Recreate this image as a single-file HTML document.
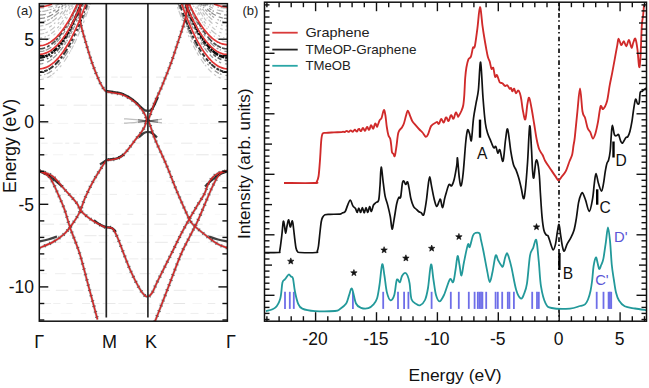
<!DOCTYPE html><html><head><meta charset="utf-8"><style>html,body{margin:0;padding:0;background:#fff;width:649px;height:388px;overflow:hidden}</style></head><body><svg width="649" height="388" viewBox="0 0 649 388" style="display:block">
<rect x="0" y="0" width="649" height="388" fill="#fff"/>
<defs><clipPath id="cl"><rect x="39.3" y="3.65" width="188.10000000000002" height="317.55"/></clipPath></defs>
<g clip-path="url(#cl)">
<line x1="41.3" y1="143.2" x2="47.7" y2="143.2" stroke="#000" stroke-opacity="0.07" stroke-width="1"/>
<line x1="52.6" y1="143.2" x2="62.7" y2="143.2" stroke="#000" stroke-opacity="0.07" stroke-width="1"/>
<line x1="65.2" y1="143.2" x2="69.3" y2="143.2" stroke="#000" stroke-opacity="0.09" stroke-width="1"/>
<line x1="73.4" y1="143.2" x2="79.8" y2="143.2" stroke="#000" stroke-opacity="0.10" stroke-width="1"/>
<line x1="85.5" y1="143.2" x2="97.9" y2="143.2" stroke="#000" stroke-opacity="0.06" stroke-width="1"/>
<line x1="105.0" y1="143.2" x2="110.5" y2="143.2" stroke="#000" stroke-opacity="0.07" stroke-width="1"/>
<line x1="119.4" y1="143.2" x2="128.7" y2="143.2" stroke="#000" stroke-opacity="0.08" stroke-width="1"/>
<line x1="136.0" y1="143.2" x2="140.7" y2="143.2" stroke="#000" stroke-opacity="0.08" stroke-width="1"/>
<line x1="147.4" y1="143.2" x2="154.4" y2="143.2" stroke="#000" stroke-opacity="0.03" stroke-width="1"/>
<line x1="163.4" y1="143.2" x2="172.1" y2="143.2" stroke="#000" stroke-opacity="0.08" stroke-width="1"/>
<line x1="181.1" y1="143.2" x2="192.3" y2="143.2" stroke="#000" stroke-opacity="0.09" stroke-width="1"/>
<line x1="197.4" y1="143.2" x2="209.4" y2="143.2" stroke="#000" stroke-opacity="0.06" stroke-width="1"/>
<line x1="218.9" y1="143.2" x2="225.4" y2="143.2" stroke="#000" stroke-opacity="0.04" stroke-width="1"/>
<line x1="41.3" y1="154.8" x2="47.5" y2="154.8" stroke="#000" stroke-opacity="0.10" stroke-width="1"/>
<line x1="53.0" y1="154.8" x2="63.2" y2="154.8" stroke="#000" stroke-opacity="0.05" stroke-width="1"/>
<line x1="69.3" y1="154.8" x2="77.1" y2="154.8" stroke="#000" stroke-opacity="0.05" stroke-width="1"/>
<line x1="83.8" y1="154.8" x2="93.7" y2="154.8" stroke="#000" stroke-opacity="0.09" stroke-width="1"/>
<line x1="101.1" y1="154.8" x2="114.4" y2="154.8" stroke="#000" stroke-opacity="0.09" stroke-width="1"/>
<line x1="124.3" y1="154.8" x2="135.1" y2="154.8" stroke="#000" stroke-opacity="0.04" stroke-width="1"/>
<line x1="143.9" y1="154.8" x2="157.6" y2="154.8" stroke="#000" stroke-opacity="0.09" stroke-width="1"/>
<line x1="164.1" y1="154.8" x2="175.3" y2="154.8" stroke="#000" stroke-opacity="0.04" stroke-width="1"/>
<line x1="183.9" y1="154.8" x2="193.7" y2="154.8" stroke="#000" stroke-opacity="0.05" stroke-width="1"/>
<line x1="196.2" y1="154.8" x2="208.7" y2="154.8" stroke="#000" stroke-opacity="0.10" stroke-width="1"/>
<line x1="211.4" y1="154.8" x2="223.4" y2="154.8" stroke="#000" stroke-opacity="0.06" stroke-width="1"/>
<line x1="41.3" y1="181.2" x2="48.2" y2="181.2" stroke="#000" stroke-opacity="0.08" stroke-width="1"/>
<line x1="57.2" y1="181.2" x2="61.7" y2="181.2" stroke="#000" stroke-opacity="0.07" stroke-width="1"/>
<line x1="64.0" y1="181.2" x2="75.2" y2="181.2" stroke="#000" stroke-opacity="0.05" stroke-width="1"/>
<line x1="84.3" y1="181.2" x2="98.1" y2="181.2" stroke="#000" stroke-opacity="0.07" stroke-width="1"/>
<line x1="108.0" y1="181.2" x2="115.1" y2="181.2" stroke="#000" stroke-opacity="0.04" stroke-width="1"/>
<line x1="121.9" y1="181.2" x2="126.3" y2="181.2" stroke="#000" stroke-opacity="0.04" stroke-width="1"/>
<line x1="131.5" y1="181.2" x2="141.6" y2="181.2" stroke="#000" stroke-opacity="0.04" stroke-width="1"/>
<line x1="144.0" y1="181.2" x2="156.6" y2="181.2" stroke="#000" stroke-opacity="0.05" stroke-width="1"/>
<line x1="166.3" y1="181.2" x2="179.3" y2="181.2" stroke="#000" stroke-opacity="0.06" stroke-width="1"/>
<line x1="185.0" y1="181.2" x2="194.2" y2="181.2" stroke="#000" stroke-opacity="0.08" stroke-width="1"/>
<line x1="200.9" y1="181.2" x2="210.5" y2="181.2" stroke="#000" stroke-opacity="0.07" stroke-width="1"/>
<line x1="220.0" y1="181.2" x2="225.4" y2="181.2" stroke="#000" stroke-opacity="0.06" stroke-width="1"/>
<line x1="41.3" y1="194.4" x2="47.7" y2="194.4" stroke="#000" stroke-opacity="0.05" stroke-width="1"/>
<line x1="57.5" y1="194.4" x2="66.7" y2="194.4" stroke="#000" stroke-opacity="0.07" stroke-width="1"/>
<line x1="68.8" y1="194.4" x2="77.0" y2="194.4" stroke="#000" stroke-opacity="0.07" stroke-width="1"/>
<line x1="79.1" y1="194.4" x2="89.3" y2="194.4" stroke="#000" stroke-opacity="0.07" stroke-width="1"/>
<line x1="91.8" y1="194.4" x2="102.0" y2="194.4" stroke="#000" stroke-opacity="0.06" stroke-width="1"/>
<line x1="109.5" y1="194.4" x2="117.0" y2="194.4" stroke="#000" stroke-opacity="0.08" stroke-width="1"/>
<line x1="124.9" y1="194.4" x2="129.1" y2="194.4" stroke="#000" stroke-opacity="0.03" stroke-width="1"/>
<line x1="136.5" y1="194.4" x2="150.2" y2="194.4" stroke="#000" stroke-opacity="0.05" stroke-width="1"/>
<line x1="155.8" y1="194.4" x2="165.7" y2="194.4" stroke="#000" stroke-opacity="0.05" stroke-width="1"/>
<line x1="170.6" y1="194.4" x2="177.8" y2="194.4" stroke="#000" stroke-opacity="0.06" stroke-width="1"/>
<line x1="184.5" y1="194.4" x2="191.5" y2="194.4" stroke="#000" stroke-opacity="0.06" stroke-width="1"/>
<line x1="199.7" y1="194.4" x2="204.0" y2="194.4" stroke="#000" stroke-opacity="0.07" stroke-width="1"/>
<line x1="211.9" y1="194.4" x2="219.0" y2="194.4" stroke="#000" stroke-opacity="0.05" stroke-width="1"/>
<line x1="41.3" y1="214.3" x2="47.7" y2="214.3" stroke="#000" stroke-opacity="0.04" stroke-width="1"/>
<line x1="53.2" y1="214.3" x2="64.1" y2="214.3" stroke="#000" stroke-opacity="0.04" stroke-width="1"/>
<line x1="68.7" y1="214.3" x2="76.1" y2="214.3" stroke="#000" stroke-opacity="0.09" stroke-width="1"/>
<line x1="81.6" y1="214.3" x2="94.1" y2="214.3" stroke="#000" stroke-opacity="0.04" stroke-width="1"/>
<line x1="98.8" y1="214.3" x2="109.3" y2="214.3" stroke="#000" stroke-opacity="0.09" stroke-width="1"/>
<line x1="114.9" y1="214.3" x2="121.2" y2="214.3" stroke="#000" stroke-opacity="0.04" stroke-width="1"/>
<line x1="127.4" y1="214.3" x2="133.3" y2="214.3" stroke="#000" stroke-opacity="0.09" stroke-width="1"/>
<line x1="142.0" y1="214.3" x2="147.9" y2="214.3" stroke="#000" stroke-opacity="0.05" stroke-width="1"/>
<line x1="156.3" y1="214.3" x2="166.7" y2="214.3" stroke="#000" stroke-opacity="0.09" stroke-width="1"/>
<line x1="171.5" y1="214.3" x2="176.8" y2="214.3" stroke="#000" stroke-opacity="0.05" stroke-width="1"/>
<line x1="185.2" y1="214.3" x2="191.9" y2="214.3" stroke="#000" stroke-opacity="0.05" stroke-width="1"/>
<line x1="197.2" y1="214.3" x2="205.4" y2="214.3" stroke="#000" stroke-opacity="0.06" stroke-width="1"/>
<line x1="214.8" y1="214.3" x2="220.3" y2="214.3" stroke="#000" stroke-opacity="0.03" stroke-width="1"/>
<line x1="41.3" y1="224.2" x2="54.1" y2="224.2" stroke="#000" stroke-opacity="0.10" stroke-width="1"/>
<line x1="59.6" y1="224.2" x2="73.1" y2="224.2" stroke="#000" stroke-opacity="0.09" stroke-width="1"/>
<line x1="76.9" y1="224.2" x2="88.3" y2="224.2" stroke="#000" stroke-opacity="0.09" stroke-width="1"/>
<line x1="95.6" y1="224.2" x2="104.8" y2="224.2" stroke="#000" stroke-opacity="0.05" stroke-width="1"/>
<line x1="109.5" y1="224.2" x2="115.8" y2="224.2" stroke="#000" stroke-opacity="0.03" stroke-width="1"/>
<line x1="122.5" y1="224.2" x2="129.4" y2="224.2" stroke="#000" stroke-opacity="0.09" stroke-width="1"/>
<line x1="131.7" y1="224.2" x2="144.8" y2="224.2" stroke="#000" stroke-opacity="0.08" stroke-width="1"/>
<line x1="154.2" y1="224.2" x2="167.1" y2="224.2" stroke="#000" stroke-opacity="0.09" stroke-width="1"/>
<line x1="173.8" y1="224.2" x2="177.9" y2="224.2" stroke="#000" stroke-opacity="0.08" stroke-width="1"/>
<line x1="181.3" y1="224.2" x2="188.3" y2="224.2" stroke="#000" stroke-opacity="0.08" stroke-width="1"/>
<line x1="194.5" y1="224.2" x2="202.6" y2="224.2" stroke="#000" stroke-opacity="0.10" stroke-width="1"/>
<line x1="209.5" y1="224.2" x2="216.9" y2="224.2" stroke="#000" stroke-opacity="0.05" stroke-width="1"/>
<line x1="41.3" y1="235.7" x2="50.1" y2="235.7" stroke="#000" stroke-opacity="0.08" stroke-width="1"/>
<line x1="54.9" y1="235.7" x2="60.9" y2="235.7" stroke="#000" stroke-opacity="0.07" stroke-width="1"/>
<line x1="69.4" y1="235.7" x2="75.1" y2="235.7" stroke="#000" stroke-opacity="0.09" stroke-width="1"/>
<line x1="84.5" y1="235.7" x2="96.5" y2="235.7" stroke="#000" stroke-opacity="0.09" stroke-width="1"/>
<line x1="98.6" y1="235.7" x2="108.9" y2="235.7" stroke="#000" stroke-opacity="0.09" stroke-width="1"/>
<line x1="111.3" y1="235.7" x2="118.0" y2="235.7" stroke="#000" stroke-opacity="0.05" stroke-width="1"/>
<line x1="124.2" y1="235.7" x2="132.4" y2="235.7" stroke="#000" stroke-opacity="0.06" stroke-width="1"/>
<line x1="140.7" y1="235.7" x2="144.7" y2="235.7" stroke="#000" stroke-opacity="0.03" stroke-width="1"/>
<line x1="147.7" y1="235.7" x2="152.9" y2="235.7" stroke="#000" stroke-opacity="0.03" stroke-width="1"/>
<line x1="162.7" y1="235.7" x2="175.3" y2="235.7" stroke="#000" stroke-opacity="0.04" stroke-width="1"/>
<line x1="181.3" y1="235.7" x2="188.5" y2="235.7" stroke="#000" stroke-opacity="0.05" stroke-width="1"/>
<line x1="193.3" y1="235.7" x2="203.7" y2="235.7" stroke="#000" stroke-opacity="0.07" stroke-width="1"/>
<line x1="208.6" y1="235.7" x2="214.5" y2="235.7" stroke="#000" stroke-opacity="0.05" stroke-width="1"/>
<line x1="217.5" y1="235.7" x2="225.4" y2="235.7" stroke="#000" stroke-opacity="0.08" stroke-width="1"/>
<line x1="41.3" y1="242.3" x2="46.1" y2="242.3" stroke="#000" stroke-opacity="0.04" stroke-width="1"/>
<line x1="51.1" y1="242.3" x2="61.1" y2="242.3" stroke="#000" stroke-opacity="0.08" stroke-width="1"/>
<line x1="66.2" y1="242.3" x2="78.2" y2="242.3" stroke="#000" stroke-opacity="0.07" stroke-width="1"/>
<line x1="83.6" y1="242.3" x2="91.4" y2="242.3" stroke="#000" stroke-opacity="0.06" stroke-width="1"/>
<line x1="99.0" y1="242.3" x2="107.2" y2="242.3" stroke="#000" stroke-opacity="0.08" stroke-width="1"/>
<line x1="112.9" y1="242.3" x2="119.3" y2="242.3" stroke="#000" stroke-opacity="0.07" stroke-width="1"/>
<line x1="126.9" y1="242.3" x2="131.6" y2="242.3" stroke="#000" stroke-opacity="0.06" stroke-width="1"/>
<line x1="137.0" y1="242.3" x2="149.8" y2="242.3" stroke="#000" stroke-opacity="0.10" stroke-width="1"/>
<line x1="154.8" y1="242.3" x2="167.8" y2="242.3" stroke="#000" stroke-opacity="0.09" stroke-width="1"/>
<line x1="171.9" y1="242.3" x2="180.5" y2="242.3" stroke="#000" stroke-opacity="0.04" stroke-width="1"/>
<line x1="189.0" y1="242.3" x2="199.6" y2="242.3" stroke="#000" stroke-opacity="0.09" stroke-width="1"/>
<line x1="208.0" y1="242.3" x2="218.7" y2="242.3" stroke="#000" stroke-opacity="0.08" stroke-width="1"/>
<line x1="225.2" y1="242.3" x2="225.4" y2="242.3" stroke="#000" stroke-opacity="0.07" stroke-width="1"/>
<line x1="41.3" y1="258.9" x2="46.7" y2="258.9" stroke="#000" stroke-opacity="0.08" stroke-width="1"/>
<line x1="49.1" y1="258.9" x2="54.0" y2="258.9" stroke="#000" stroke-opacity="0.04" stroke-width="1"/>
<line x1="63.1" y1="258.9" x2="68.8" y2="258.9" stroke="#000" stroke-opacity="0.03" stroke-width="1"/>
<line x1="77.6" y1="258.9" x2="82.8" y2="258.9" stroke="#000" stroke-opacity="0.09" stroke-width="1"/>
<line x1="90.2" y1="258.9" x2="102.5" y2="258.9" stroke="#000" stroke-opacity="0.10" stroke-width="1"/>
<line x1="109.2" y1="258.9" x2="121.2" y2="258.9" stroke="#000" stroke-opacity="0.03" stroke-width="1"/>
<line x1="129.3" y1="258.9" x2="138.4" y2="258.9" stroke="#000" stroke-opacity="0.08" stroke-width="1"/>
<line x1="141.3" y1="258.9" x2="152.8" y2="258.9" stroke="#000" stroke-opacity="0.10" stroke-width="1"/>
<line x1="155.2" y1="258.9" x2="162.5" y2="258.9" stroke="#000" stroke-opacity="0.07" stroke-width="1"/>
<line x1="171.1" y1="258.9" x2="177.5" y2="258.9" stroke="#000" stroke-opacity="0.04" stroke-width="1"/>
<line x1="181.5" y1="258.9" x2="191.7" y2="258.9" stroke="#000" stroke-opacity="0.08" stroke-width="1"/>
<line x1="196.8" y1="258.9" x2="204.5" y2="258.9" stroke="#000" stroke-opacity="0.06" stroke-width="1"/>
<line x1="209.3" y1="258.9" x2="217.5" y2="258.9" stroke="#000" stroke-opacity="0.04" stroke-width="1"/>
<line x1="223.5" y1="258.9" x2="225.4" y2="258.9" stroke="#000" stroke-opacity="0.06" stroke-width="1"/>
<line x1="41.3" y1="273.7" x2="46.9" y2="273.7" stroke="#000" stroke-opacity="0.08" stroke-width="1"/>
<line x1="55.0" y1="273.7" x2="65.7" y2="273.7" stroke="#000" stroke-opacity="0.07" stroke-width="1"/>
<line x1="71.6" y1="273.7" x2="82.0" y2="273.7" stroke="#000" stroke-opacity="0.09" stroke-width="1"/>
<line x1="85.2" y1="273.7" x2="90.1" y2="273.7" stroke="#000" stroke-opacity="0.08" stroke-width="1"/>
<line x1="99.5" y1="273.7" x2="108.7" y2="273.7" stroke="#000" stroke-opacity="0.06" stroke-width="1"/>
<line x1="116.4" y1="273.7" x2="122.3" y2="273.7" stroke="#000" stroke-opacity="0.05" stroke-width="1"/>
<line x1="125.9" y1="273.7" x2="135.7" y2="273.7" stroke="#000" stroke-opacity="0.05" stroke-width="1"/>
<line x1="139.6" y1="273.7" x2="150.5" y2="273.7" stroke="#000" stroke-opacity="0.10" stroke-width="1"/>
<line x1="154.9" y1="273.7" x2="165.9" y2="273.7" stroke="#000" stroke-opacity="0.06" stroke-width="1"/>
<line x1="174.7" y1="273.7" x2="184.6" y2="273.7" stroke="#000" stroke-opacity="0.05" stroke-width="1"/>
<line x1="188.3" y1="273.7" x2="192.6" y2="273.7" stroke="#000" stroke-opacity="0.06" stroke-width="1"/>
<line x1="197.6" y1="273.7" x2="203.3" y2="273.7" stroke="#000" stroke-opacity="0.06" stroke-width="1"/>
<line x1="207.9" y1="273.7" x2="219.7" y2="273.7" stroke="#000" stroke-opacity="0.04" stroke-width="1"/>
<line x1="41.3" y1="290.3" x2="50.1" y2="290.3" stroke="#000" stroke-opacity="0.07" stroke-width="1"/>
<line x1="55.8" y1="290.3" x2="68.2" y2="290.3" stroke="#000" stroke-opacity="0.09" stroke-width="1"/>
<line x1="74.6" y1="290.3" x2="83.5" y2="290.3" stroke="#000" stroke-opacity="0.08" stroke-width="1"/>
<line x1="92.3" y1="290.3" x2="100.3" y2="290.3" stroke="#000" stroke-opacity="0.08" stroke-width="1"/>
<line x1="110.0" y1="290.3" x2="118.7" y2="290.3" stroke="#000" stroke-opacity="0.05" stroke-width="1"/>
<line x1="122.5" y1="290.3" x2="133.7" y2="290.3" stroke="#000" stroke-opacity="0.08" stroke-width="1"/>
<line x1="143.4" y1="290.3" x2="155.9" y2="290.3" stroke="#000" stroke-opacity="0.05" stroke-width="1"/>
<line x1="159.4" y1="290.3" x2="166.0" y2="290.3" stroke="#000" stroke-opacity="0.04" stroke-width="1"/>
<line x1="173.7" y1="290.3" x2="186.3" y2="290.3" stroke="#000" stroke-opacity="0.09" stroke-width="1"/>
<line x1="190.3" y1="290.3" x2="202.9" y2="290.3" stroke="#000" stroke-opacity="0.05" stroke-width="1"/>
<line x1="208.3" y1="290.3" x2="219.6" y2="290.3" stroke="#000" stroke-opacity="0.04" stroke-width="1"/>
<line x1="222.4" y1="290.3" x2="225.4" y2="290.3" stroke="#000" stroke-opacity="0.05" stroke-width="1"/>
<line x1="41.3" y1="303.5" x2="51.1" y2="303.5" stroke="#000" stroke-opacity="0.08" stroke-width="1"/>
<line x1="53.2" y1="303.5" x2="60.5" y2="303.5" stroke="#000" stroke-opacity="0.06" stroke-width="1"/>
<line x1="66.4" y1="303.5" x2="72.5" y2="303.5" stroke="#000" stroke-opacity="0.07" stroke-width="1"/>
<line x1="82.1" y1="303.5" x2="90.0" y2="303.5" stroke="#000" stroke-opacity="0.07" stroke-width="1"/>
<line x1="93.0" y1="303.5" x2="99.7" y2="303.5" stroke="#000" stroke-opacity="0.08" stroke-width="1"/>
<line x1="102.6" y1="303.5" x2="115.5" y2="303.5" stroke="#000" stroke-opacity="0.09" stroke-width="1"/>
<line x1="118.3" y1="303.5" x2="131.7" y2="303.5" stroke="#000" stroke-opacity="0.06" stroke-width="1"/>
<line x1="139.9" y1="303.5" x2="151.5" y2="303.5" stroke="#000" stroke-opacity="0.05" stroke-width="1"/>
<line x1="158.9" y1="303.5" x2="169.4" y2="303.5" stroke="#000" stroke-opacity="0.09" stroke-width="1"/>
<line x1="173.5" y1="303.5" x2="185.1" y2="303.5" stroke="#000" stroke-opacity="0.10" stroke-width="1"/>
<line x1="192.5" y1="303.5" x2="201.8" y2="303.5" stroke="#000" stroke-opacity="0.04" stroke-width="1"/>
<line x1="207.8" y1="303.5" x2="215.3" y2="303.5" stroke="#000" stroke-opacity="0.08" stroke-width="1"/>
<line x1="222.7" y1="303.5" x2="225.4" y2="303.5" stroke="#000" stroke-opacity="0.04" stroke-width="1"/>
<line x1="41.3" y1="313.4" x2="51.6" y2="313.4" stroke="#000" stroke-opacity="0.04" stroke-width="1"/>
<line x1="60.7" y1="313.4" x2="71.3" y2="313.4" stroke="#000" stroke-opacity="0.04" stroke-width="1"/>
<line x1="80.7" y1="313.4" x2="86.2" y2="313.4" stroke="#000" stroke-opacity="0.05" stroke-width="1"/>
<line x1="93.9" y1="313.4" x2="103.9" y2="313.4" stroke="#000" stroke-opacity="0.07" stroke-width="1"/>
<line x1="111.1" y1="313.4" x2="119.6" y2="313.4" stroke="#000" stroke-opacity="0.05" stroke-width="1"/>
<line x1="123.1" y1="313.4" x2="127.7" y2="313.4" stroke="#000" stroke-opacity="0.08" stroke-width="1"/>
<line x1="135.8" y1="313.4" x2="145.2" y2="313.4" stroke="#000" stroke-opacity="0.08" stroke-width="1"/>
<line x1="150.1" y1="313.4" x2="156.7" y2="313.4" stroke="#000" stroke-opacity="0.06" stroke-width="1"/>
<line x1="165.7" y1="313.4" x2="170.1" y2="313.4" stroke="#000" stroke-opacity="0.07" stroke-width="1"/>
<line x1="174.1" y1="313.4" x2="185.8" y2="313.4" stroke="#000" stroke-opacity="0.05" stroke-width="1"/>
<line x1="190.5" y1="313.4" x2="198.5" y2="313.4" stroke="#000" stroke-opacity="0.07" stroke-width="1"/>
<line x1="206.7" y1="313.4" x2="214.2" y2="313.4" stroke="#000" stroke-opacity="0.09" stroke-width="1"/>
<line x1="217.1" y1="313.4" x2="223.8" y2="313.4" stroke="#000" stroke-opacity="0.04" stroke-width="1"/>
<line x1="41.3" y1="77.1" x2="53.1" y2="77.1" stroke="#000" stroke-opacity="0.08" stroke-width="1"/>
<line x1="56.6" y1="77.1" x2="62.5" y2="77.1" stroke="#000" stroke-opacity="0.06" stroke-width="1"/>
<line x1="70.4" y1="77.1" x2="82.6" y2="77.1" stroke="#000" stroke-opacity="0.08" stroke-width="1"/>
<line x1="89.3" y1="77.1" x2="94.8" y2="77.1" stroke="#000" stroke-opacity="0.06" stroke-width="1"/>
<line x1="98.3" y1="77.1" x2="107.6" y2="77.1" stroke="#000" stroke-opacity="0.07" stroke-width="1"/>
<line x1="111.2" y1="77.1" x2="117.7" y2="77.1" stroke="#000" stroke-opacity="0.08" stroke-width="1"/>
<line x1="119.9" y1="77.1" x2="132.0" y2="77.1" stroke="#000" stroke-opacity="0.09" stroke-width="1"/>
<line x1="141.6" y1="77.1" x2="149.4" y2="77.1" stroke="#000" stroke-opacity="0.07" stroke-width="1"/>
<line x1="156.1" y1="77.1" x2="166.4" y2="77.1" stroke="#000" stroke-opacity="0.10" stroke-width="1"/>
<line x1="173.9" y1="77.1" x2="180.9" y2="77.1" stroke="#000" stroke-opacity="0.09" stroke-width="1"/>
<line x1="186.8" y1="77.1" x2="196.8" y2="77.1" stroke="#000" stroke-opacity="0.08" stroke-width="1"/>
<line x1="198.8" y1="77.1" x2="210.5" y2="77.1" stroke="#000" stroke-opacity="0.08" stroke-width="1"/>
<line x1="216.4" y1="77.1" x2="225.4" y2="77.1" stroke="#000" stroke-opacity="0.06" stroke-width="1"/>
<line x1="41.3" y1="105.2" x2="50.6" y2="105.2" stroke="#000" stroke-opacity="0.03" stroke-width="1"/>
<line x1="56.6" y1="105.2" x2="67.1" y2="105.2" stroke="#000" stroke-opacity="0.06" stroke-width="1"/>
<line x1="73.6" y1="105.2" x2="87.2" y2="105.2" stroke="#000" stroke-opacity="0.09" stroke-width="1"/>
<line x1="90.3" y1="105.2" x2="102.2" y2="105.2" stroke="#000" stroke-opacity="0.07" stroke-width="1"/>
<line x1="104.6" y1="105.2" x2="112.2" y2="105.2" stroke="#000" stroke-opacity="0.05" stroke-width="1"/>
<line x1="114.8" y1="105.2" x2="124.2" y2="105.2" stroke="#000" stroke-opacity="0.10" stroke-width="1"/>
<line x1="128.8" y1="105.2" x2="141.5" y2="105.2" stroke="#000" stroke-opacity="0.08" stroke-width="1"/>
<line x1="144.6" y1="105.2" x2="157.1" y2="105.2" stroke="#000" stroke-opacity="0.07" stroke-width="1"/>
<line x1="166.6" y1="105.2" x2="177.7" y2="105.2" stroke="#000" stroke-opacity="0.08" stroke-width="1"/>
<line x1="182.5" y1="105.2" x2="194.5" y2="105.2" stroke="#000" stroke-opacity="0.10" stroke-width="1"/>
<line x1="203.4" y1="105.2" x2="211.8" y2="105.2" stroke="#000" stroke-opacity="0.08" stroke-width="1"/>
<line x1="217.7" y1="105.2" x2="222.8" y2="105.2" stroke="#000" stroke-opacity="0.03" stroke-width="1"/>
<line x1="225.4" y1="105.2" x2="225.4" y2="105.2" stroke="#000" stroke-opacity="0.04" stroke-width="1"/>
<line x1="41.3" y1="123.4" x2="52.3" y2="123.4" stroke="#000" stroke-opacity="0.07" stroke-width="1"/>
<line x1="57.7" y1="123.4" x2="68.2" y2="123.4" stroke="#000" stroke-opacity="0.05" stroke-width="1"/>
<line x1="73.9" y1="123.4" x2="85.4" y2="123.4" stroke="#000" stroke-opacity="0.06" stroke-width="1"/>
<line x1="88.9" y1="123.4" x2="101.9" y2="123.4" stroke="#000" stroke-opacity="0.08" stroke-width="1"/>
<line x1="106.8" y1="123.4" x2="114.5" y2="123.4" stroke="#000" stroke-opacity="0.07" stroke-width="1"/>
<line x1="121.3" y1="123.4" x2="127.5" y2="123.4" stroke="#000" stroke-opacity="0.03" stroke-width="1"/>
<line x1="131.2" y1="123.4" x2="143.0" y2="123.4" stroke="#000" stroke-opacity="0.04" stroke-width="1"/>
<line x1="148.7" y1="123.4" x2="154.7" y2="123.4" stroke="#000" stroke-opacity="0.04" stroke-width="1"/>
<line x1="158.0" y1="123.4" x2="166.1" y2="123.4" stroke="#000" stroke-opacity="0.04" stroke-width="1"/>
<line x1="168.3" y1="123.4" x2="173.4" y2="123.4" stroke="#000" stroke-opacity="0.04" stroke-width="1"/>
<line x1="179.3" y1="123.4" x2="183.9" y2="123.4" stroke="#000" stroke-opacity="0.03" stroke-width="1"/>
<line x1="189.5" y1="123.4" x2="197.6" y2="123.4" stroke="#000" stroke-opacity="0.08" stroke-width="1"/>
<line x1="200.0" y1="123.4" x2="208.0" y2="123.4" stroke="#000" stroke-opacity="0.06" stroke-width="1"/>
<line x1="210.2" y1="123.4" x2="223.9" y2="123.4" stroke="#000" stroke-opacity="0.05" stroke-width="1"/>
<path d="M39.30,8.00 L40.00,8.00 L40.70,7.98 L41.41,7.96 L42.11,7.92 L42.81,7.88 L43.51,7.82 L44.21,7.75 L44.92,7.68 L45.62,7.59 L46.32,7.50 L47.02,7.40 L47.72,7.28 L48.43,7.16 L49.13,7.02 L49.83,6.88 L50.53,6.72 L51.23,6.55 L51.94,6.38 L52.64,6.20 L53.34,6.00 L54.04,5.79 L54.74,5.58 L55.45,5.36 L56.15,5.12 L56.85,4.88 L57.55,4.62 L58.25,4.35 L58.96,4.08 L59.66,3.80 L60.36,3.50" fill="none" stroke="#000" stroke-opacity="0.35" stroke-width="1.2" stroke-dasharray="4.8,4.2,4.5,3.0,4.6,3.1,1.2,1.9,6.0,3.4,6.9,4.4,2.2,1.4,4.6,1.0,3.2,0.9,4.2,3.9,2.3,2.6,1.9,1.8,3.0,3.9,1.6,1.6,2.4,3.6,6.2,2.2,2.7,0.8,6.6,2.5,1.8,1.1,2.6,1.8,3.7,4.4,1.2,1.7,2.3,3.7,4.8,2.5,5.7,1.3,1.2,2.4,3.3,4.4,1.6,4.1,4.0,4.0,1.2,4.5,3.3,3.7,3.5,1.1,4.9,1.7,1.7,2.5,2.0,2.9,1.4,1.4,2.6,1.7,5.7,4.3,6.8,4.1,1.8,1.2"/>
<path d="M227.40,8.00 L226.70,8.00 L226.00,7.98 L225.29,7.96 L224.59,7.92 L223.89,7.88 L223.19,7.82 L222.49,7.75 L221.78,7.68 L221.08,7.59 L220.38,7.50 L219.68,7.40 L218.98,7.28 L218.27,7.16 L217.57,7.02 L216.87,6.88 L216.17,6.72 L215.47,6.55 L214.76,6.38 L214.06,6.20 L213.36,6.00 L212.66,5.79 L211.96,5.58 L211.25,5.36 L210.55,5.12 L209.85,4.88 L209.15,4.62 L208.45,4.35 L207.74,4.08 L207.04,3.80 L206.34,3.50" fill="none" stroke="#000" stroke-opacity="0.35" stroke-width="1.2" stroke-dasharray="6.8,1.7,1.5,3.8,1.6,1.4,1.1,1.6,2.7,3.1,6.6,1.6,3.3,2.4,2.9,2.2,1.3,2.1,3.0,3.2,2.2,1.3,2.1,4.2,2.9,0.9,2.0,3.5,7.0,1.1,2.5,4.1,2.4,3.7,1.7,3.3,2.7,2.3,2.7,2.9,1.8,3.0,1.2,3.2,2.8,3.5,5.7,2.9,6.2,1.1,1.1,3.0,3.2,3.4,5.1,4.2,2.1,1.9,1.4,1.4,2.3,2.4,1.7,3.3,4.2,3.8,2.8,2.2,1.6,1.3,6.2,3.9,2.9,1.8,4.3,1.8,4.1,3.1,3.6,3.9"/>
<path d="M39.30,11.50 L40.05,11.49 L40.80,11.46 L41.55,11.42 L42.30,11.36 L43.05,11.28 L43.81,11.18 L44.56,11.06 L45.31,10.93 L46.06,10.78 L46.81,10.61 L47.56,10.42 L48.31,10.22 L49.06,10.00 L49.81,9.76 L50.56,9.50 L51.32,9.22 L52.07,8.93 L52.82,8.62 L53.57,8.29 L54.32,7.94 L55.07,7.58 L55.82,7.20 L56.57,6.80 L57.32,6.38 L58.07,5.94 L58.83,5.49 L59.58,5.02 L60.33,4.53 L61.08,4.02 L61.83,3.50" fill="none" stroke="#000" stroke-opacity="0.3" stroke-width="1.2" stroke-dasharray="1.9,1.1,6.4,1.0,2.1,1.9,1.0,1.3,2.1,3.9,2.7,1.0,1.9,3.1,2.6,4.3,1.4,2.6,2.1,2.5,1.4,1.8,5.5,2.7,2.5,2.3,2.8,1.1,2.4,1.3,5.1,4.2,4.8,4.1,2.9,2.5,1.4,3.5,2.3,3.5,6.5,4.4,2.1,3.7,6.5,4.0,2.4,2.4,2.5,2.6,6.0,1.0,1.3,2.0,1.3,1.4,2.4,3.9,2.9,2.6,1.2,1.6,1.6,3.5,2.0,3.9,1.6,2.2,2.8,1.6,2.9,2.7,1.4,2.8,2.2,0.9,2.0,2.3,2.1,2.6"/>
<path d="M227.40,11.50 L226.65,11.49 L225.90,11.46 L225.15,11.42 L224.40,11.36 L223.65,11.28 L222.89,11.18 L222.14,11.06 L221.39,10.93 L220.64,10.78 L219.89,10.61 L219.14,10.42 L218.39,10.22 L217.64,10.00 L216.89,9.76 L216.13,9.50 L215.38,9.22 L214.63,8.93 L213.88,8.62 L213.13,8.29 L212.38,7.94 L211.63,7.58 L210.88,7.20 L210.13,6.80 L209.38,6.38 L208.62,5.94 L207.87,5.49 L207.12,5.02 L206.37,4.53 L205.62,4.02 L204.87,3.50" fill="none" stroke="#000" stroke-opacity="0.3" stroke-width="1.2" stroke-dasharray="1.1,2.8,6.8,4.2,4.4,1.3,6.1,4.1,3.6,1.5,2.9,1.3,1.0,1.5,5.4,2.0,5.1,1.2,1.2,2.7,3.0,2.8,3.9,2.3,1.3,1.6,2.3,2.8,2.2,4.0,5.7,3.8,1.6,2.0,1.4,4.5,1.3,1.7,1.5,1.2,1.8,3.7,4.0,3.3,3.0,3.3,2.9,1.2,2.5,2.7,1.4,1.1,2.2,2.8,2.1,1.3,3.0,3.9,2.9,1.2,6.8,2.5,1.7,2.5,1.9,3.0,5.5,3.9,4.3,3.5,3.0,1.4,1.0,4.1,2.4,4.0,1.8,3.0,3.0,3.8"/>
<path d="M39.30,15.00 L40.10,14.99 L40.90,14.95 L41.70,14.88 L42.50,14.80 L43.30,14.68 L44.10,14.54 L44.90,14.37 L45.70,14.18 L46.50,13.96 L47.30,13.72 L48.10,13.45 L48.90,13.16 L49.70,12.84 L50.50,12.50 L51.30,12.12 L52.10,11.73 L52.90,11.31 L53.70,10.86 L54.50,10.39 L55.30,9.89 L56.10,9.37 L56.90,8.82 L57.70,8.24 L58.50,7.64 L59.30,7.01 L60.10,6.36 L60.90,5.68 L61.70,4.98 L62.50,4.25 L63.30,3.50" fill="none" stroke="#000" stroke-opacity="0.4" stroke-width="1.3" stroke-dasharray="6.6,3.2,2.6,2.1,2.8,3.0,2.5,2.1,1.1,1.9,2.1,1.9,2.2,1.5,2.3,1.8,2.1,2.5,7.0,2.9,2.5,4.0,5.1,3.2,4.0,0.9,3.9,1.0,6.5,2.6,6.8,2.6,2.3,3.4,5.0,3.2,6.7,1.3,2.8,2.4,1.1,3.9,4.6,2.7,3.4,2.9,3.4,3.1,2.1,1.5,2.8,3.2,6.5,3.2,6.9,3.9,6.5,2.2,6.9,1.5,6.7,3.1,6.9,3.4,1.2,2.8,3.0,0.9,2.6,2.2,1.9,1.6,4.1,3.3,7.0,3.9,1.5,1.1,2.6,2.8"/>
<path d="M227.40,15.00 L226.60,14.99 L225.80,14.95 L225.00,14.88 L224.20,14.80 L223.40,14.68 L222.60,14.54 L221.80,14.37 L221.00,14.18 L220.20,13.96 L219.40,13.72 L218.60,13.45 L217.80,13.16 L217.00,12.84 L216.20,12.50 L215.40,12.12 L214.60,11.73 L213.80,11.31 L213.00,10.86 L212.20,10.39 L211.40,9.89 L210.60,9.37 L209.80,8.82 L209.00,8.24 L208.20,7.64 L207.40,7.01 L206.60,6.36 L205.80,5.68 L205.00,4.98 L204.20,4.25 L203.40,3.50" fill="none" stroke="#000" stroke-opacity="0.4" stroke-width="1.3" stroke-dasharray="3.4,3.0,5.0,2.8,1.4,1.5,2.8,3.6,2.3,1.6,5.1,1.1,2.4,1.0,2.1,2.8,4.4,1.4,5.7,3.5,2.6,3.4,2.5,1.4,3.3,3.4,5.3,4.0,4.7,3.2,1.9,1.9,6.4,1.0,4.8,2.3,1.6,3.3,3.1,2.9,3.5,3.1,1.6,1.2,5.6,1.9,5.5,2.6,2.9,3.8,6.0,1.7,4.0,3.8,1.5,1.9,3.8,2.0,3.0,2.6,2.1,3.5,2.9,3.2,1.6,0.8,4.7,2.6,2.3,3.4,4.7,3.3,2.4,3.2,1.2,2.8,5.7,2.9,3.1,3.3"/>
<path d="M39.30,18.50 L40.15,18.48 L41.00,18.43 L41.85,18.35 L42.70,18.23 L43.54,18.08 L44.39,17.90 L45.24,17.68 L46.09,17.43 L46.94,17.15 L47.79,16.83 L48.64,16.48 L49.49,16.10 L50.34,15.68 L51.19,15.23 L52.03,14.75 L52.88,14.23 L53.73,13.68 L54.58,13.10 L55.43,12.48 L56.28,11.83 L57.13,11.15 L57.98,10.43 L58.83,9.68 L59.68,8.90 L60.52,8.08 L61.37,7.23 L62.22,6.35 L63.07,5.43 L63.92,4.48 L64.77,3.50" fill="none" stroke="#000" stroke-opacity="0.45" stroke-width="1.3" stroke-dasharray="5.8,2.0,6.8,3.0,4.7,3.1,2.8,2.1,2.3,3.6,2.7,3.7,2.3,2.5,2.6,2.1,2.7,3.2,1.8,1.3,4.1,1.7,1.1,1.7,5.2,3.3,2.3,2.2,6.5,0.8,2.9,1.4,5.6,2.7,2.9,1.7,5.8,1.8,6.1,2.3,6.4,3.8,4.7,3.9,3.1,0.9,2.6,2.0,4.6,1.6,2.3,1.5,4.4,2.0,2.4,2.7,2.8,1.8,6.3,2.4,3.0,1.6,2.8,3.3,6.1,3.5,1.2,1.6,1.2,2.3,6.8,2.7,1.6,3.3,6.6,1.0,1.4,2.5,2.8,3.5"/>
<path d="M227.40,18.50 L226.55,18.48 L225.70,18.43 L224.85,18.35 L224.00,18.23 L223.16,18.08 L222.31,17.90 L221.46,17.68 L220.61,17.43 L219.76,17.15 L218.91,16.83 L218.06,16.48 L217.21,16.10 L216.36,15.68 L215.51,15.23 L214.67,14.75 L213.82,14.23 L212.97,13.68 L212.12,13.10 L211.27,12.48 L210.42,11.83 L209.57,11.15 L208.72,10.43 L207.87,9.68 L207.02,8.90 L206.18,8.08 L205.33,7.23 L204.48,6.35 L203.63,5.43 L202.78,4.48 L201.93,3.50" fill="none" stroke="#000" stroke-opacity="0.45" stroke-width="1.3" stroke-dasharray="3.6,1.0,4.3,3.1,5.4,1.1,4.3,3.9,2.3,0.8,5.6,1.5,4.3,0.8,2.6,1.4,1.6,2.0,3.5,1.8,5.3,1.6,5.7,1.8,2.1,3.1,6.1,1.0,2.5,3.0,1.4,2.1,2.2,1.0,2.8,1.1,2.4,3.8,4.6,2.9,2.6,2.0,4.1,0.8,5.5,4.0,2.3,2.7,3.7,1.9,1.2,2.0,5.9,3.5,1.3,3.3,2.1,1.9,2.7,3.1,2.0,3.1,1.4,3.9,1.4,1.0,4.9,3.0,6.6,1.9,2.6,4.0,6.5,2.5,4.8,1.6,3.0,3.4,1.2,3.5"/>
<path d="M39.30,22.00 L40.20,21.98 L41.10,21.92 L41.99,21.82 L42.89,21.67 L43.79,21.49 L44.69,21.26 L45.59,20.99 L46.48,20.68 L47.38,20.34 L48.28,19.94 L49.18,19.51 L50.08,19.04 L50.97,18.53 L51.87,17.97 L52.77,17.38 L53.67,16.74 L54.57,16.06 L55.46,15.34 L56.36,14.58 L57.26,13.78 L58.16,12.93 L59.06,12.05 L59.95,11.13 L60.85,10.16 L61.75,9.15 L62.65,8.10 L63.55,7.02 L64.44,5.88 L65.34,4.71 L66.24,3.50" fill="none" stroke="#000" stroke-opacity="0.35" stroke-width="1.3" stroke-dasharray="6.5,1.6,2.7,1.4,2.4,0.9,6.9,4.1,1.6,3.1,1.8,2.8,1.0,1.5,2.7,2.1,1.3,2.6,4.8,1.9,1.1,3.1,6.8,2.9,4.1,3.0,2.5,3.4,7.0,3.7,1.8,2.3,2.8,2.6,4.2,3.9,2.3,3.3,2.5,2.9,1.6,2.8,2.6,2.3,4.0,0.9,2.1,1.6,4.0,1.6,6.6,4.2,2.7,2.2,1.4,3.4,2.8,1.1,1.2,2.6,1.0,1.6,3.6,1.0,2.6,2.2,4.9,0.9,6.5,1.8,6.7,4.2,3.0,1.8,2.8,1.4,1.7,2.4,6.4,4.3"/>
<path d="M227.40,22.00 L226.50,21.98 L225.60,21.92 L224.71,21.82 L223.81,21.67 L222.91,21.49 L222.01,21.26 L221.11,20.99 L220.22,20.68 L219.32,20.34 L218.42,19.94 L217.52,19.51 L216.62,19.04 L215.73,18.53 L214.83,17.97 L213.93,17.38 L213.03,16.74 L212.13,16.06 L211.24,15.34 L210.34,14.58 L209.44,13.78 L208.54,12.93 L207.64,12.05 L206.75,11.13 L205.85,10.16 L204.95,9.15 L204.05,8.10 L203.15,7.02 L202.26,5.88 L201.36,4.71 L200.46,3.50" fill="none" stroke="#000" stroke-opacity="0.35" stroke-width="1.3" stroke-dasharray="5.2,1.4,1.1,1.1,1.6,3.9,2.4,1.2,2.9,2.3,3.1,1.8,1.4,1.4,5.3,3.5,5.3,3.9,1.5,1.8,2.3,1.7,1.2,4.2,4.6,2.6,5.0,1.8,6.0,1.1,5.8,1.6,4.7,1.4,3.0,0.9,5.8,2.1,2.0,1.4,2.3,2.0,2.6,2.6,6.2,3.2,6.8,1.4,1.3,2.9,4.2,3.5,2.6,1.6,3.1,2.8,2.2,2.9,2.1,3.8,2.8,0.8,4.2,2.3,6.0,1.0,2.1,2.7,1.5,1.3,2.2,1.9,2.1,1.7,1.2,3.6,3.3,1.3,2.7,3.5"/>
<path d="M39.30,26.00 L40.25,25.98 L41.21,25.90 L42.16,25.77 L43.12,25.60 L44.07,25.38 L45.02,25.10 L45.98,24.77 L46.93,24.40 L47.89,23.98 L48.84,23.50 L49.79,22.98 L50.75,22.40 L51.70,21.77 L52.66,21.10 L53.61,20.38 L54.56,19.60 L55.52,18.77 L56.47,17.90 L57.43,16.98 L58.38,16.00 L59.33,14.98 L60.29,13.90 L61.24,12.78 L62.20,11.60 L63.15,10.38 L64.10,9.10 L65.06,7.78 L66.01,6.40 L66.97,4.98 L67.92,3.50" fill="none" stroke="#000" stroke-opacity="0.28" stroke-width="1.2" stroke-dasharray="4.1,2.1,6.9,1.0,5.8,4.4,4.3,3.6,3.2,4.1,4.0,1.9,2.4,0.9,2.5,3.5,3.3,2.8,4.3,4.3,3.7,4.4,1.1,2.3,1.1,2.1,2.7,3.0,1.9,2.3,1.8,3.7,3.7,1.5,1.3,1.6,4.3,1.9,7.0,3.3,1.4,2.2,5.5,2.1,2.1,1.5,4.0,4.2,1.5,2.1,6.7,2.1,2.4,4.2,3.6,2.2,6.4,2.0,2.0,1.0,3.2,1.0,5.0,0.9,4.1,2.8,5.5,1.8,2.3,1.3,3.4,3.4,3.9,4.0,3.5,2.1,2.2,0.9,2.1,3.8"/>
<path d="M227.40,26.00 L226.45,25.98 L225.49,25.90 L224.54,25.77 L223.58,25.60 L222.63,25.38 L221.68,25.10 L220.72,24.77 L219.77,24.40 L218.81,23.98 L217.86,23.50 L216.91,22.98 L215.95,22.40 L215.00,21.77 L214.04,21.10 L213.09,20.38 L212.14,19.60 L211.18,18.77 L210.23,17.90 L209.27,16.98 L208.32,16.00 L207.37,14.98 L206.41,13.90 L205.46,12.78 L204.50,11.60 L203.55,10.38 L202.60,9.10 L201.64,7.78 L200.69,6.40 L199.73,4.98 L198.78,3.50" fill="none" stroke="#000" stroke-opacity="0.28" stroke-width="1.2" stroke-dasharray="1.6,3.3,1.4,3.4,2.9,4.0,5.2,1.1,4.0,1.0,3.6,2.6,2.8,2.3,2.8,3.3,2.5,2.1,2.8,3.0,2.1,3.4,4.0,2.1,4.0,1.0,4.9,2.5,3.3,0.9,6.5,2.9,5.3,1.5,5.1,4.3,4.9,4.3,2.3,3.1,4.1,1.8,2.8,2.2,1.1,1.3,1.6,2.1,1.3,1.5,5.4,1.7,4.7,2.3,4.5,3.2,2.2,2.9,2.9,2.0,6.4,2.0,2.4,3.3,2.6,1.4,2.0,2.9,3.4,3.6,1.5,1.7,2.9,2.7,2.3,1.1,5.5,1.2,5.9,2.6"/>
<path d="M39.30,30.00 L40.31,29.97 L41.32,29.88 L42.33,29.73 L43.34,29.53 L44.35,29.26 L45.36,28.94 L46.37,28.56 L47.38,28.12 L48.39,27.61 L49.40,27.06 L50.41,26.44 L51.42,25.76 L52.43,25.02 L53.44,24.23 L54.45,23.38 L55.46,22.46 L56.47,21.49 L57.48,20.46 L58.49,19.37 L59.50,18.22 L60.51,17.02 L61.52,15.75 L62.53,14.42 L63.54,13.04 L64.55,11.60 L65.56,10.10 L66.57,8.54 L67.58,6.92 L68.59,5.24 L69.60,3.50" fill="none" stroke="#000" stroke-opacity="0.25" stroke-width="1.2" stroke-dasharray="6.3,4.0,3.3,2.7,1.8,3.4,5.6,2.0,5.8,3.9,2.1,2.4,2.2,3.9,1.3,2.2,1.5,1.5,4.9,4.3,1.3,3.3,5.2,2.3,3.0,1.0,1.2,1.0,5.7,4.5,3.7,0.9,2.0,2.2,6.0,3.9,4.0,3.1,3.0,2.2,2.1,3.8,2.9,1.2,1.5,2.6,3.6,0.9,1.3,3.1,3.1,2.6,3.3,1.0,6.5,1.9,2.9,2.6,1.4,4.0,4.1,3.8,2.3,2.8,2.2,1.8,2.7,4.5,6.2,3.5,2.1,1.4,2.4,2.1,1.6,2.7,3.1,4.3,4.6,3.8"/>
<path d="M227.40,30.00 L226.39,29.97 L225.38,29.88 L224.37,29.73 L223.36,29.53 L222.35,29.26 L221.34,28.94 L220.33,28.56 L219.32,28.12 L218.31,27.62 L217.30,27.06 L216.29,26.44 L215.28,25.76 L214.27,25.02 L213.26,24.23 L212.25,23.38 L211.24,22.46 L210.23,21.49 L209.22,20.46 L208.21,19.37 L207.20,18.22 L206.19,17.02 L205.18,15.75 L204.17,14.42 L203.16,13.04 L202.15,11.60 L201.14,10.10 L200.13,8.54 L199.12,6.92 L198.11,5.24 L197.10,3.50" fill="none" stroke="#000" stroke-opacity="0.25" stroke-width="1.2" stroke-dasharray="2.5,2.3,2.7,3.6,1.2,4.3,5.5,1.7,1.0,2.9,3.9,2.2,2.6,2.1,1.7,1.8,1.6,1.1,5.7,1.6,2.1,3.3,2.5,1.3,4.2,0.8,1.8,2.0,2.9,1.6,1.6,3.6,6.9,2.4,1.4,2.3,1.4,1.8,2.9,2.0,3.8,4.5,5.2,2.2,1.4,3.1,2.7,3.1,2.1,1.2,2.4,2.5,1.8,2.2,5.0,2.9,1.1,3.1,5.0,3.0,1.3,2.5,2.5,2.0,3.0,2.3,1.3,4.5,3.2,3.9,2.9,3.9,2.0,4.5,6.4,3.4,6.0,2.5,2.7,1.5"/>
<path d="M39.30,34.00 L40.37,33.97 L41.43,33.86 L42.50,33.70 L43.56,33.46 L44.63,33.15 L45.70,32.78 L46.76,32.34 L47.83,31.83 L48.89,31.25 L49.96,30.61 L51.03,29.90 L52.09,29.12 L53.16,28.27 L54.22,27.36 L55.29,26.38 L56.36,25.32 L57.42,24.21 L58.49,23.02 L59.55,21.77 L60.62,20.44 L61.69,19.05 L62.75,17.60 L63.82,16.07 L64.88,14.48 L65.95,12.82 L67.02,11.09 L68.08,9.30 L69.15,7.43 L70.21,5.50 L71.28,3.50" fill="none" stroke="#000" stroke-opacity="0.22" stroke-width="1.2" stroke-dasharray="5.2,1.1,2.6,2.7,6.0,4.2,2.1,4.4,1.3,2.3,2.2,2.2,2.7,1.3,3.9,4.1,2.8,1.1,1.4,3.3,2.5,1.6,1.9,0.9,3.6,3.3,5.0,3.5,2.6,3.5,1.3,1.3,2.2,2.2,7.0,3.5,1.7,2.0,2.7,3.3,6.1,2.4,2.0,4.5,5.5,1.8,1.6,4.2,6.3,3.5,2.9,2.3,2.2,2.6,4.1,1.9,6.8,2.0,2.3,1.8,2.7,4.3,4.1,2.2,2.7,3.1,1.2,4.3,3.8,2.3,2.3,2.2,2.9,0.9,1.9,2.2,1.6,3.4,2.9,4.6"/>
<path d="M227.40,34.00 L226.33,33.97 L225.27,33.86 L224.20,33.70 L223.14,33.46 L222.07,33.15 L221.00,32.78 L219.94,32.34 L218.87,31.83 L217.81,31.25 L216.74,30.61 L215.67,29.90 L214.61,29.12 L213.54,28.27 L212.48,27.36 L211.41,26.38 L210.34,25.32 L209.28,24.21 L208.21,23.02 L207.15,21.77 L206.08,20.44 L205.01,19.05 L203.95,17.60 L202.88,16.07 L201.82,14.48 L200.75,12.82 L199.68,11.09 L198.62,9.30 L197.55,7.43 L196.49,5.50 L195.42,3.50" fill="none" stroke="#000" stroke-opacity="0.22" stroke-width="1.2" stroke-dasharray="1.8,4.1,2.4,4.7,4.3,2.4,1.4,4.7,3.8,1.4,5.7,1.2,5.2,3.3,1.5,4.0,2.6,1.3,1.0,4.2,2.8,0.9,4.7,2.9,5.9,2.0,1.2,3.0,2.4,2.8,5.9,1.8,2.3,1.7,2.1,2.6,1.2,4.1,6.9,2.9,5.1,4.2,1.8,0.9,6.1,3.7,1.3,2.9,2.6,2.0,2.3,4.1,4.1,1.1,2.6,4.4,4.4,3.4,2.9,3.0,2.8,2.4,5.7,1.8,4.1,2.7,4.2,2.6,6.2,1.1,2.1,2.4,2.5,2.3,4.4,1.7,2.0,0.9,6.8,0.9"/>
<path d="M39.30,38.00 L40.42,37.96 L41.54,37.85 L42.67,37.66 L43.79,37.39 L44.91,37.04 L46.03,36.62 L47.15,36.12 L48.28,35.55 L49.40,34.90 L50.52,34.17 L51.64,33.36 L52.76,32.48 L53.89,31.52 L55.01,30.49 L56.13,29.38 L57.25,28.19 L58.37,26.92 L59.50,25.58 L60.62,24.16 L61.74,22.67 L62.86,21.10 L63.98,19.45 L65.11,17.72 L66.23,15.92 L67.35,14.04 L68.47,12.09 L69.59,10.05 L70.72,7.95 L71.84,5.76 L72.96,3.50" fill="none" stroke="#000" stroke-opacity="0.25" stroke-width="1.2" stroke-dasharray="2.9,2.2,1.7,1.9,2.2,2.0,4.6,3.6,2.5,1.7,6.0,2.4,1.8,1.9,1.2,4.4,1.7,2.0,2.6,3.2,5.8,1.0,2.1,4.2,1.0,4.3,2.2,0.8,1.8,3.3,2.8,1.1,1.9,3.6,4.2,2.4,3.6,3.5,2.6,3.9,2.1,1.2,3.6,4.3,2.8,1.6,4.7,3.9,6.4,2.5,4.2,2.2,2.9,2.6,1.8,3.7,5.7,1.4,1.4,2.1,3.7,3.0,1.8,2.9,1.7,3.0,6.9,2.0,1.5,1.8,2.1,1.8,6.1,2.2,1.9,3.1,3.0,4.2,4.4,1.7"/>
<path d="M227.40,38.00 L226.28,37.96 L225.16,37.85 L224.03,37.66 L222.91,37.39 L221.79,37.04 L220.67,36.62 L219.55,36.12 L218.42,35.55 L217.30,34.90 L216.18,34.17 L215.06,33.36 L213.94,32.48 L212.81,31.52 L211.69,30.49 L210.57,29.38 L209.45,28.19 L208.33,26.92 L207.20,25.58 L206.08,24.16 L204.96,22.67 L203.84,21.10 L202.72,19.45 L201.59,17.72 L200.47,15.92 L199.35,14.04 L198.23,12.09 L197.11,10.05 L195.98,7.95 L194.86,5.76 L193.74,3.50" fill="none" stroke="#000" stroke-opacity="0.25" stroke-width="1.2" stroke-dasharray="1.2,1.9,1.1,3.4,2.1,2.0,6.8,3.6,1.2,3.7,3.0,2.8,1.2,3.6,2.8,4.2,1.7,4.3,1.6,4.0,1.5,1.7,4.7,1.7,3.3,1.3,3.4,1.9,4.5,4.0,6.3,4.0,2.1,3.5,2.3,4.2,1.5,1.0,1.7,3.7,4.3,2.2,2.9,2.7,1.7,1.7,1.2,4.3,1.1,4.1,4.8,1.2,1.6,4.0,5.3,1.1,4.9,4.4,2.7,3.7,1.2,2.7,4.6,2.1,3.0,3.4,4.4,1.1,4.8,4.4,1.3,1.9,5.5,4.3,2.9,4.2,2.9,0.9,5.0,3.3"/>
<path d="M39.30,41.50 L40.47,41.46 L41.64,41.33 L42.81,41.12 L43.98,40.82 L45.16,40.44 L46.33,39.98 L47.50,39.43 L48.67,38.80 L49.84,38.08 L51.01,37.28 L52.18,36.39 L53.35,35.42 L54.52,34.36 L55.69,33.22 L56.87,32.00 L58.04,30.69 L59.21,29.30 L60.38,27.82 L61.55,26.26 L62.72,24.61 L63.89,22.88 L65.06,21.06 L66.23,19.16 L67.40,17.18 L68.58,15.11 L69.75,12.96 L70.92,10.72 L72.09,8.40 L73.26,5.99 L74.43,3.50" fill="none" stroke="#000" stroke-opacity="0.2" stroke-width="1.2" stroke-dasharray="2.2,4.5,4.6,4.6,2.6,4.2,1.0,1.0,2.4,2.9,2.5,4.0,2.3,3.9,2.7,2.4,3.7,0.9,1.5,3.1,1.7,3.5,1.5,4.3,2.7,1.8,2.6,2.1,5.3,1.9,1.5,4.2,3.2,2.0,5.6,3.5,2.1,1.1,1.5,1.7,6.9,2.3,6.6,4.7,2.7,3.9,1.7,3.9,3.4,3.1,2.0,4.0,4.5,2.3,6.6,1.4,6.4,4.6,1.7,4.5,5.6,4.5,2.7,3.5,2.5,4.5,1.7,1.3,6.7,1.1,3.7,1.0,2.9,1.3,2.1,3.0,2.1,4.5,3.1,1.1"/>
<path d="M227.40,41.50 L226.23,41.46 L225.06,41.33 L223.89,41.12 L222.72,40.82 L221.55,40.44 L220.37,39.98 L219.20,39.43 L218.03,38.80 L216.86,38.08 L215.69,37.28 L214.52,36.39 L213.35,35.42 L212.18,34.36 L211.01,33.22 L209.83,32.00 L208.66,30.69 L207.49,29.30 L206.32,27.82 L205.15,26.26 L203.98,24.61 L202.81,22.88 L201.64,21.06 L200.47,19.16 L199.30,17.18 L198.12,15.11 L196.95,12.96 L195.78,10.72 L194.61,8.40 L193.44,5.99 L192.27,3.50" fill="none" stroke="#000" stroke-opacity="0.2" stroke-width="1.2" stroke-dasharray="5.8,4.4,1.3,2.1,1.6,3.9,1.9,3.2,1.9,1.6,3.0,0.9,1.8,1.0,2.9,3.7,2.1,1.7,2.0,3.4,1.4,0.9,2.2,1.9,1.7,2.7,1.6,2.2,2.2,2.5,1.9,2.1,1.5,4.5,2.8,1.5,3.0,2.0,5.6,1.8,1.3,4.5,2.5,3.5,4.8,2.8,2.0,2.3,4.5,1.9,2.3,2.6,4.5,2.7,2.9,1.9,2.4,3.9,6.1,3.9,6.5,2.8,4.8,4.5,2.0,2.0,2.0,2.2,3.1,4.1,3.0,4.4,2.6,3.6,2.6,1.5,1.6,1.8,1.0,2.8"/>
<path d="M39.30,48.80 L40.57,48.75 L41.85,48.60 L43.12,48.35 L44.39,47.99 L45.67,47.54 L46.94,46.99 L48.21,46.33 L49.49,45.58 L50.76,44.72 L52.03,43.77 L53.31,42.71 L54.58,41.55 L55.85,40.29 L57.12,38.93 L58.40,37.47 L59.67,35.91 L60.94,34.25 L62.22,32.49 L63.49,30.63 L64.76,28.67 L66.04,26.60 L67.31,24.44 L68.58,22.17 L69.86,19.81 L71.13,17.34 L72.40,14.77 L73.68,12.11 L74.95,9.34 L76.22,6.47 L77.50,3.50" fill="none" stroke="#000" stroke-opacity="0.7" stroke-width="1.7" stroke-dasharray="6.0,2.1,2.9,2.2,5.3,0.8,2.7,1.4,5.5,2.5,2.2,0.9,2.3,2.8,5.9,2.8,6.7,2.2,3.9,1.5,2.8,2.6,5.3,2.6,4.6,1.4,2.9,2.2,6.7,1.4,2.8,1.3,2.2,3.1,3.7,1.3,4.4,0.7,2.1,1.8,3.2,1.1,3.2,1.4,2.3,1.5,6.7,2.2,4.0,1.2,6.8,0.9,5.4,2.5,5.2,3.0,1.5,2.0,2.1,1.1,2.3,0.9,3.4,2.4,3.6,2.5,5.5,1.7,2.5,1.8,2.8,0.7,3.3,2.4,2.6,1.7,5.7,1.6,5.4,2.2"/>
<path d="M227.40,48.80 L226.13,48.75 L224.85,48.60 L223.58,48.35 L222.31,47.99 L221.03,47.54 L219.76,46.99 L218.49,46.33 L217.21,45.58 L215.94,44.72 L214.67,43.77 L213.39,42.71 L212.12,41.55 L210.85,40.29 L209.58,38.93 L208.30,37.47 L207.03,35.91 L205.76,34.25 L204.48,32.49 L203.21,30.63 L201.94,28.67 L200.66,26.60 L199.39,24.44 L198.12,22.17 L196.84,19.81 L195.57,17.34 L194.30,14.77 L193.02,12.11 L191.75,9.34 L190.48,6.47 L189.20,3.50" fill="none" stroke="#000" stroke-opacity="0.7" stroke-width="1.7" stroke-dasharray="5.6,0.9,4.4,0.6,4.0,1.8,6.8,2.8,4.9,1.4,1.2,1.3,6.3,1.9,4.0,2.9,6.0,2.4,3.8,1.7,3.6,2.2,3.5,2.6,4.4,2.8,3.9,2.9,2.6,1.6,5.7,1.3,6.7,2.3,4.2,2.3,5.9,2.0,1.7,2.4,4.1,2.5,5.1,1.1,7.0,1.1,1.1,2.1,2.7,1.6,5.6,2.5,4.9,1.2,4.8,2.0,1.3,2.6,5.6,3.0,4.8,1.9,2.8,2.2,2.3,1.3,1.8,0.9,4.3,1.9,2.1,3.0,5.8,0.8,5.5,2.3,1.8,1.3,4.7,0.6"/>
<path d="M39.30,51.50 L40.61,51.45 L41.92,51.29 L43.23,51.02 L44.54,50.65 L45.85,50.17 L47.17,49.58 L48.48,48.89 L49.79,48.09 L51.10,47.18 L52.41,46.17 L53.72,45.05 L55.03,43.82 L56.34,42.49 L57.65,41.05 L58.96,39.50 L60.28,37.85 L61.59,36.09 L62.90,34.22 L64.21,32.25 L65.52,30.17 L66.83,27.98 L68.14,25.69 L69.45,23.29 L70.76,20.78 L72.07,18.17 L73.39,15.45 L74.70,12.62 L76.01,9.69 L77.32,6.65 L78.63,3.50" fill="none" stroke="#000" stroke-opacity="0.4" stroke-width="1.3" stroke-dasharray="5.3,1.2,6.4,3.8,2.9,1.1,6.0,3.2,4.4,3.0,6.1,3.6,5.5,3.0,6.4,1.4,3.6,2.2,2.1,2.7,1.4,1.5,1.3,3.9,4.2,2.2,2.8,3.0,3.8,3.1,6.4,3.6,3.8,1.5,1.1,3.0,6.2,2.5,2.5,0.9,6.9,2.7,1.1,1.1,5.5,1.3,5.3,3.0,4.3,1.7,3.8,1.9,3.5,1.6,3.6,2.7,2.6,3.5,4.6,1.8,2.5,2.8,2.4,2.4,4.0,2.4,4.6,2.5,2.8,1.5,3.5,0.8,2.2,1.7,6.3,3.5,2.4,3.2,4.0,2.6"/>
<path d="M227.40,51.50 L226.09,51.45 L224.78,51.29 L223.47,51.02 L222.16,50.65 L220.84,50.17 L219.53,49.58 L218.22,48.89 L216.91,48.09 L215.60,47.18 L214.29,46.17 L212.98,45.05 L211.67,43.82 L210.36,42.49 L209.05,41.05 L207.74,39.50 L206.42,37.85 L205.11,36.09 L203.80,34.22 L202.49,32.25 L201.18,30.17 L199.87,27.98 L198.56,25.69 L197.25,23.29 L195.94,20.78 L194.62,18.17 L193.31,15.45 L192.00,12.62 L190.69,9.69 L189.38,6.65 L188.07,3.50" fill="none" stroke="#000" stroke-opacity="0.4" stroke-width="1.3" stroke-dasharray="3.0,3.8,1.1,1.5,2.1,2.4,6.3,2.4,1.2,4.0,2.7,2.0,1.2,2.6,1.9,3.3,4.9,1.3,6.5,3.0,4.2,2.5,4.9,2.8,3.1,2.9,2.4,3.3,6.8,2.6,5.2,1.6,2.4,3.2,2.2,3.4,3.0,0.8,4.4,3.9,3.3,3.5,5.2,2.8,1.1,2.6,6.1,1.6,1.4,2.4,1.5,1.6,2.3,0.9,3.2,1.7,2.4,4.0,2.3,2.0,2.0,0.9,3.9,2.5,2.1,4.0,3.7,1.2,6.6,1.3,4.5,3.3,3.2,1.4,1.2,3.6,2.9,2.3,2.2,3.2"/>
<path d="M39.30,57.50 L40.70,57.44 L42.09,57.26 L43.48,56.96 L44.88,56.54 L46.27,56.00 L47.67,55.34 L49.06,54.56 L50.46,53.66 L51.86,52.64 L53.25,51.50 L54.64,50.24 L56.04,48.86 L57.44,47.36 L58.83,45.74 L60.23,44.00 L61.62,42.14 L63.02,40.16 L64.41,38.06 L65.81,35.84 L67.20,33.50 L68.59,31.04 L69.99,28.46 L71.39,25.76 L72.78,22.94 L74.18,20.00 L75.57,16.94 L76.97,13.76 L78.36,10.46 L79.76,7.04 L81.15,3.50" fill="none" stroke="#000" stroke-opacity="0.95" stroke-width="2.6" stroke-dasharray="5.6,0.5,2.7,0.5,2.1,1.4,2.4,0.5,5.0,1.5,2.6,0.7,2.6,0.5,2.8,0.5,3.9,0.5,4.5,0.8,2.2,1.1,3.7,0.5,4.9,0.8,6.7,0.5,5.5,0.8,6.5,0.5,3.5,1.3,5.5,1.5,4.0,1.4,2.6,1.5,6.3,0.7,6.8,1.4,6.4,1.6,5.3,1.5,4.0,1.0,5.9,0.5,3.4,0.7,3.0,0.9,6.9,0.6,5.5,0.5,3.0,1.0,2.0,0.5,3.6,0.6,5.2,0.5,3.2,0.9,6.3,1.5,3.6,0.8,5.7,0.9,2.8,1.3,3.0,1.1"/>
<path d="M227.40,57.50 L226.00,57.44 L224.61,57.26 L223.22,56.96 L221.82,56.54 L220.43,56.00 L219.03,55.34 L217.64,54.56 L216.24,53.66 L214.84,52.64 L213.45,51.50 L212.06,50.24 L210.66,48.86 L209.27,47.36 L207.87,45.74 L206.48,44.00 L205.08,42.14 L203.69,40.16 L202.29,38.06 L200.90,35.84 L199.50,33.50 L198.11,31.04 L196.71,28.46 L195.31,25.76 L193.92,22.94 L192.53,20.00 L191.13,16.94 L189.74,13.76 L188.34,10.46 L186.94,7.04 L185.55,3.50" fill="none" stroke="#000" stroke-opacity="0.95" stroke-width="2.6" stroke-dasharray="2.2,0.8,5.7,1.0,6.8,0.5,2.2,0.9,5.4,1.0,3.9,0.5,2.1,0.6,2.8,0.5,2.6,1.1,3.7,0.5,5.6,1.4,4.9,1.4,6.9,0.7,5.2,0.9,4.4,0.6,4.5,0.9,2.7,1.1,7.0,1.3,4.3,0.9,4.0,1.5,4.0,0.9,7.0,0.5,2.4,1.2,2.7,0.8,5.8,0.9,3.8,1.4,2.1,1.4,2.7,0.5,5.7,0.5,3.1,0.9,2.3,1.5,2.7,1.3,2.2,1.1,6.5,1.3,2.2,1.1,3.5,1.5,5.2,0.5,6.7,1.1,5.6,1.5,2.2,0.9"/>
<path d="M39.30,60.50 L40.74,60.44 L42.17,60.25 L43.61,59.93 L45.05,59.49 L46.48,58.92 L47.92,58.22 L49.36,57.40 L50.80,56.45 L52.23,55.37 L53.67,54.17 L55.11,52.84 L56.54,51.38 L57.98,49.80 L59.42,48.09 L60.85,46.25 L62.29,44.29 L63.73,42.20 L65.17,39.98 L66.60,37.64 L68.04,35.17 L69.48,32.57 L70.91,29.85 L72.35,27.00 L73.79,24.02 L75.22,20.92 L76.66,17.69 L78.10,14.33 L79.54,10.85 L80.97,7.24 L82.41,3.50" fill="none" stroke="#000" stroke-opacity="0.65" stroke-width="1.7" stroke-dasharray="4.7,3.2,1.5,2.1,2.8,2.7,1.7,1.8,5.6,1.9,2.5,1.1,2.0,2.4,3.8,1.1,2.2,1.0,5.0,2.3,2.2,3.0,1.8,2.4,4.1,1.6,3.8,1.6,2.6,2.5,1.8,2.4,3.6,0.9,2.8,1.4,2.6,1.0,6.5,0.8,5.8,1.2,1.7,1.9,3.5,1.8,5.6,0.7,6.0,1.5,2.6,0.8,2.2,0.6,5.0,1.5,4.1,1.6,1.7,3.2,2.1,0.9,1.2,2.1,2.5,1.7,7.0,2.2,2.9,2.7,4.4,2.8,2.8,2.1,4.6,2.6,4.8,2.8,1.2,1.0"/>
<path d="M227.40,60.50 L225.96,60.44 L224.53,60.25 L223.09,59.93 L221.65,59.49 L220.22,58.92 L218.78,58.22 L217.34,57.40 L215.90,56.45 L214.47,55.37 L213.03,54.17 L211.59,52.84 L210.16,51.38 L208.72,49.80 L207.28,48.09 L205.85,46.25 L204.41,44.29 L202.97,42.20 L201.53,39.98 L200.10,37.64 L198.66,35.17 L197.22,32.57 L195.79,29.85 L194.35,27.00 L192.91,24.02 L191.48,20.92 L190.04,17.69 L188.60,14.33 L187.16,10.85 L185.73,7.24 L184.29,3.50" fill="none" stroke="#000" stroke-opacity="0.65" stroke-width="1.7" stroke-dasharray="2.8,3.3,4.2,1.9,3.4,2.8,6.2,2.8,4.7,0.9,1.1,1.3,2.2,2.5,4.6,1.2,3.3,2.5,2.7,1.1,4.9,0.6,2.7,1.7,6.1,3.3,5.8,2.9,1.4,0.9,3.2,3.1,1.9,1.0,3.2,2.4,5.9,1.8,4.3,1.6,5.4,2.6,4.8,1.0,3.9,1.6,2.4,1.8,2.7,0.7,3.8,1.5,5.0,2.9,2.9,0.9,5.8,1.2,6.0,0.8,3.6,2.7,3.5,1.9,4.4,2.8,6.1,3.2,6.8,3.2,7.0,1.2,1.2,1.4,6.2,2.5,6.5,3.0,2.3,1.4"/>
<path d="M39.30,64.00 L40.79,63.93 L42.27,63.73 L43.76,63.40 L45.24,62.92 L46.73,62.32 L48.22,61.58 L49.70,60.71 L51.19,59.70 L52.67,58.55 L54.16,57.28 L55.65,55.87 L57.13,54.32 L58.62,52.64 L60.10,50.82 L61.59,48.88 L63.08,46.79 L64.56,44.57 L66.05,42.22 L67.53,39.73 L69.02,37.11 L70.51,34.36 L71.99,31.46 L73.48,28.44 L74.96,25.28 L76.45,21.99 L77.94,18.56 L79.42,15.00 L80.91,11.30 L82.39,7.47 L83.88,3.50" fill="none" stroke="#000" stroke-opacity="0.4" stroke-width="1.3" stroke-dasharray="4.1,3.9,6.1,1.0,5.7,1.9,2.3,0.9,4.7,2.1,3.5,0.8,1.7,2.4,3.3,0.9,3.5,1.1,4.4,0.8,1.7,2.2,2.1,1.1,2.1,2.4,5.8,2.4,2.7,3.7,2.3,2.3,4.9,2.5,2.7,0.9,2.2,2.7,1.1,2.3,6.7,1.3,2.7,3.2,5.7,1.7,1.0,1.5,2.8,3.3,2.4,3.1,1.1,3.8,2.2,2.3,2.5,3.7,1.2,2.2,5.4,1.1,4.1,2.3,5.0,3.9,2.8,3.5,3.2,2.3,2.2,1.9,1.6,0.8,3.0,3.2,1.1,1.5,5.9,3.7"/>
<path d="M227.40,64.00 L225.91,63.93 L224.43,63.73 L222.94,63.40 L221.46,62.92 L219.97,62.32 L218.48,61.58 L217.00,60.71 L215.51,59.70 L214.03,58.55 L212.54,57.28 L211.05,55.87 L209.57,54.32 L208.08,52.64 L206.60,50.82 L205.11,48.88 L203.62,46.79 L202.14,44.57 L200.65,42.22 L199.17,39.73 L197.68,37.11 L196.19,34.35 L194.71,31.46 L193.22,28.44 L191.74,25.28 L190.25,21.99 L188.76,18.56 L187.28,15.00 L185.79,11.30 L184.31,7.47 L182.82,3.50" fill="none" stroke="#000" stroke-opacity="0.4" stroke-width="1.3" stroke-dasharray="2.5,3.9,2.4,2.3,2.5,2.4,4.6,2.9,5.2,1.2,1.4,1.5,2.9,3.8,2.7,3.5,2.4,3.2,2.7,0.9,5.7,2.3,3.0,2.2,2.3,3.0,5.2,0.9,2.4,3.4,3.0,2.2,2.1,1.1,4.0,1.5,3.1,2.1,2.8,3.0,6.3,2.7,2.2,1.9,2.4,2.9,5.4,3.8,2.2,3.4,2.6,4.0,2.1,2.8,2.7,2.8,2.0,3.5,3.0,2.7,2.5,4.0,6.5,2.0,3.6,1.9,1.8,1.6,1.2,1.7,2.6,2.7,6.0,1.9,1.4,2.5,2.1,1.7,1.6,2.3"/>
<path d="M39.30,72.00 L40.90,71.92 L42.50,71.70 L44.09,71.31 L45.69,70.78 L47.29,70.10 L48.89,69.26 L50.49,68.27 L52.08,67.13 L53.68,65.83 L55.28,64.39 L56.88,62.79 L58.48,61.04 L60.07,59.14 L61.67,57.08 L63.27,54.88 L64.87,52.52 L66.47,50.00 L68.06,47.34 L69.66,44.52 L71.26,41.56 L72.86,38.43 L74.46,35.16 L76.05,31.74 L77.65,28.16 L79.25,24.43 L80.85,20.55 L82.45,16.52 L84.04,12.33 L85.64,7.99 L87.24,3.50" fill="none" stroke="#000" stroke-opacity="0.8" stroke-width="2.0" stroke-dasharray="3.3,1.7,3.7,1.1,5.9,2.0,6.3,2.1,2.7,2.1,6.9,2.2,4.8,1.9,2.7,2.6,3.3,2.7,2.3,2.0,3.1,1.2,3.6,2.0,3.0,2.5,1.5,2.3,4.9,0.6,6.7,0.8,4.6,0.5,2.3,2.4,4.5,1.5,5.5,0.6,6.6,2.0,5.6,2.0,5.9,1.8,4.6,1.1,6.4,1.3,3.8,0.9,6.8,2.1,2.2,0.6,2.2,1.8,6.8,1.1,3.1,0.8,4.5,1.4,6.8,1.2,4.7,0.7,5.0,2.4,5.5,1.0,6.2,2.1,2.8,2.6,2.8,1.7,3.8,2.5"/>
<path d="M227.40,72.00 L225.80,71.92 L224.20,71.70 L222.61,71.31 L221.01,70.78 L219.41,70.10 L217.81,69.26 L216.21,68.27 L214.62,67.13 L213.02,65.83 L211.42,64.39 L209.82,62.79 L208.22,61.04 L206.63,59.14 L205.03,57.08 L203.43,54.88 L201.83,52.52 L200.23,50.00 L198.64,47.34 L197.04,44.52 L195.44,41.56 L193.84,38.43 L192.24,35.16 L190.65,31.74 L189.05,28.16 L187.45,24.43 L185.85,20.55 L184.25,16.52 L182.66,12.33 L181.06,7.99 L179.46,3.50" fill="none" stroke="#000" stroke-opacity="0.8" stroke-width="2.0" stroke-dasharray="3.5,0.6,3.8,0.7,3.0,1.4,5.3,0.7,2.3,1.5,3.3,2.3,4.0,2.2,4.8,1.7,6.7,2.0,3.0,1.5,4.8,0.7,4.1,0.6,6.7,2.4,3.9,2.7,5.6,2.6,2.0,0.8,6.0,1.8,2.6,1.9,2.7,1.8,6.0,2.3,3.5,0.8,2.1,2.4,6.0,1.6,2.7,2.3,3.1,1.2,5.8,1.5,1.6,1.4,6.8,2.2,6.6,1.1,2.3,2.0,2.0,0.8,2.3,1.5,4.1,2.3,6.3,1.5,2.3,2.2,4.0,0.8,2.3,0.7,4.1,0.8,5.0,2.4,2.8,1.1"/>
<path d="M39.30,75.50 L40.95,75.42 L42.59,75.18 L44.24,74.78 L45.89,74.22 L47.53,73.50 L49.18,72.62 L50.83,71.58 L52.48,70.38 L54.12,69.02 L55.77,67.50 L57.42,65.82 L59.06,63.98 L60.71,61.98 L62.36,59.82 L64.00,57.50 L65.65,55.02 L67.30,52.38 L68.95,49.58 L70.59,46.62 L72.24,43.50 L73.89,40.22 L75.53,36.78 L77.18,33.18 L78.83,29.42 L80.47,25.50 L82.12,21.42 L83.77,17.18 L85.42,12.78 L87.06,8.22 L88.71,3.50" fill="none" stroke="#000" stroke-opacity="0.4" stroke-width="1.3" stroke-dasharray="2.2,2.9,1.1,1.4,6.2,3.9,3.3,0.9,4.0,3.8,3.0,0.8,6.0,3.6,2.1,2.6,5.1,3.8,1.6,2.7,5.8,1.6,2.4,3.7,6.8,2.7,5.2,1.8,2.2,2.8,2.5,3.3,5.8,1.6,6.7,3.5,3.0,2.7,2.2,2.7,3.9,2.6,5.2,3.6,1.5,0.8,4.2,3.5,4.6,2.7,5.4,2.6,3.2,1.1,6.4,3.9,4.9,2.4,2.9,3.3,3.1,1.6,3.0,1.0,2.9,2.9,2.2,2.3,1.6,2.3,1.4,3.2,6.9,2.8,5.8,1.7,4.2,3.2,1.4,3.9"/>
<path d="M227.40,75.50 L225.75,75.42 L224.11,75.18 L222.46,74.78 L220.81,74.22 L219.17,73.50 L217.52,72.62 L215.87,71.58 L214.22,70.38 L212.58,69.02 L210.93,67.50 L209.28,65.82 L207.64,63.98 L205.99,61.98 L204.34,59.82 L202.69,57.50 L201.05,55.02 L199.40,52.38 L197.75,49.58 L196.11,46.62 L194.46,43.50 L192.81,40.22 L191.17,36.78 L189.52,33.18 L187.87,29.42 L186.23,25.50 L184.58,21.42 L182.93,17.18 L181.28,12.78 L179.64,8.22 L177.99,3.50" fill="none" stroke="#000" stroke-opacity="0.4" stroke-width="1.3" stroke-dasharray="2.0,4.0,1.8,1.0,5.0,3.1,2.6,2.2,2.2,2.8,5.3,2.6,5.4,3.1,6.8,2.3,4.6,1.9,6.4,1.3,1.3,2.4,1.2,3.6,6.9,3.7,5.2,2.3,3.8,2.2,1.2,2.5,4.8,3.4,3.6,3.9,3.4,2.5,1.1,2.9,3.4,1.3,4.2,2.1,1.5,2.8,6.0,3.4,6.9,2.5,3.3,3.1,5.4,1.6,1.5,3.6,4.0,2.6,4.7,2.6,2.5,1.0,1.0,0.9,1.6,0.8,4.5,3.5,2.8,0.8,3.6,2.4,2.3,3.6,6.6,3.0,3.9,2.3,6.6,2.3"/>
<path d="M39.30,79.50 L41.00,79.42 L42.71,79.16 L44.41,78.74 L46.11,78.15 L47.81,77.39 L49.52,76.46 L51.22,75.36 L52.92,74.10 L54.63,72.66 L56.33,71.06 L58.03,69.28 L59.74,67.34 L61.44,65.23 L63.14,62.95 L64.84,60.50 L66.55,57.88 L68.25,55.10 L69.95,52.14 L71.66,49.02 L73.36,45.72 L75.06,42.26 L76.77,38.63 L78.47,34.83 L80.17,30.86 L81.88,26.72 L83.58,22.42 L85.28,17.94 L86.98,13.30 L88.69,8.48 L90.39,3.50" fill="none" stroke="#000" stroke-opacity="0.22" stroke-width="1.2" stroke-dasharray="4.5,3.8,4.9,1.1,2.9,2.7,1.5,3.3,2.5,4.5,7.0,2.5,1.4,1.1,1.2,0.9,4.7,1.5,5.8,2.5,5.4,4.5,1.9,2.8,2.7,3.7,5.9,1.2,4.5,1.5,1.6,4.3,6.1,4.3,5.8,2.6,2.6,3.2,2.4,2.0,1.7,2.2,1.0,2.6,1.3,3.5,4.0,1.7,1.9,3.3,5.9,2.8,4.5,1.7,6.7,2.6,1.3,3.1,3.1,1.3,6.5,4.4,2.1,3.5,1.1,3.6,3.2,3.7,1.5,2.7,2.2,2.7,2.3,1.5,2.2,2.5,2.1,3.2,6.2,2.8"/>
<path d="M227.40,79.50 L225.70,79.42 L223.99,79.16 L222.29,78.74 L220.59,78.15 L218.88,77.39 L217.18,76.46 L215.48,75.36 L213.78,74.10 L212.07,72.66 L210.37,71.06 L208.67,69.28 L206.96,67.34 L205.26,65.23 L203.56,62.95 L201.86,60.50 L200.15,57.88 L198.45,55.10 L196.75,52.14 L195.04,49.02 L193.34,45.72 L191.64,42.26 L189.93,38.63 L188.23,34.83 L186.53,30.86 L184.82,26.72 L183.12,22.42 L181.42,17.94 L179.72,13.30 L178.01,8.48 L176.31,3.50" fill="none" stroke="#000" stroke-opacity="0.22" stroke-width="1.2" stroke-dasharray="3.0,3.9,2.4,2.8,2.5,3.2,5.1,2.8,1.9,1.7,5.5,4.1,3.6,2.5,5.2,3.6,2.6,3.5,1.9,2.5,1.6,3.9,4.8,2.7,2.1,1.8,6.8,1.3,2.9,3.7,2.1,4.1,3.5,4.3,2.6,3.9,4.5,1.1,4.5,3.8,5.3,1.3,2.3,2.9,2.4,2.4,2.4,2.9,1.4,1.9,2.2,4.3,1.1,4.3,3.0,3.6,2.7,2.8,4.4,2.5,4.9,1.4,2.6,0.9,2.5,2.3,2.2,3.2,6.5,2.1,1.5,4.3,1.4,3.5,3.9,2.2,3.8,1.4,2.5,3.7"/>
<path d="M124.00,123.20 C126.00,123.05 132.02,122.67 136.00,122.30 C139.98,121.93 144.57,121.05 147.90,121.00 C151.23,120.95 153.65,121.70 156.00,122.00 C158.35,122.30 161.00,122.67 162.00,122.80" fill="none" stroke="#000" stroke-opacity="0.25" stroke-width="1.2"/>
<path d="M124.00,118.80 C126.00,118.95 132.02,119.33 136.00,119.70 C139.98,120.07 144.57,120.95 147.90,121.00 C151.23,121.05 153.65,120.30 156.00,120.00 C158.35,119.70 161.00,119.33 162.00,119.20" fill="none" stroke="#000" stroke-opacity="0.25" stroke-width="1.2"/>
<path d="M138.00,122.20 C138.83,122.12 141.35,121.90 143.00,121.70 C144.65,121.50 146.23,121.00 147.90,121.00 C149.57,121.00 151.32,121.50 153.00,121.70 C154.68,121.90 157.17,122.12 158.00,122.20" fill="none" stroke="#000" stroke-opacity="0.45" stroke-width="1.3"/>
<path d="M138.00,119.80 C138.83,119.88 141.35,120.10 143.00,120.30 C144.65,120.50 146.23,121.00 147.90,121.00 C149.57,121.00 151.32,120.50 153.00,120.30 C154.68,120.10 157.17,119.88 158.00,119.80" fill="none" stroke="#000" stroke-opacity="0.45" stroke-width="1.3"/>
<path d="M106.00,91.00 C107.37,91.17 111.65,91.62 114.20,92.00 C116.75,92.38 118.93,92.50 121.30,93.30 C123.67,94.10 126.03,95.38 128.40,96.80 C130.77,98.22 133.38,100.05 135.50,101.80 C137.62,103.55 139.55,105.90 141.10,107.30 C142.65,108.70 143.67,109.62 144.80,110.20 C145.93,110.78 146.90,110.80 147.90,110.80 C148.90,110.80 149.78,111.00 150.80,110.20 C151.82,109.40 152.80,108.20 154.00,106.00 C155.20,103.80 157.33,98.50 158.00,97.00" fill="none" stroke="#111" stroke-opacity="0.8" stroke-width="2.2"/>
<path d="M139.00,137.50 C139.75,136.78 142.02,134.15 143.50,133.20 C144.98,132.25 146.43,131.80 147.90,131.80 C149.37,131.80 150.78,132.25 152.30,133.20 C153.82,134.15 156.22,136.78 157.00,137.50" fill="none" stroke="#111" stroke-opacity="0.8" stroke-width="2.2"/>
<path d="M39.30,241.50 C40.75,241.17 45.05,240.33 48.00,239.50 C50.95,238.67 55.50,237.00 57.00,236.50" fill="none" stroke="#111" stroke-opacity="0.8" stroke-width="2.2"/>
<path d="M227.40,241.50 C225.83,241.17 221.07,240.33 218.00,239.50 C214.93,238.67 210.50,237.00 209.00,236.50" fill="none" stroke="#111" stroke-opacity="0.8" stroke-width="2.2"/>
<path d="M39.30,171.50 C40.58,172.00 44.38,173.00 47.00,174.50 C49.62,176.00 52.50,178.50 55.00,180.50 C57.50,182.50 60.83,185.50 62.00,186.50" fill="none" stroke="#111" stroke-opacity="0.8" stroke-width="2.2"/>
<path d="M227.40,171.50 C226.08,172.00 222.15,173.00 219.50,174.50 C216.85,176.00 213.92,178.50 211.50,180.50 C209.08,182.50 206.08,185.50 205.00,186.50" fill="none" stroke="#111" stroke-opacity="0.8" stroke-width="2.2"/>
<path d="M94.00,220.20 C95.22,221.05 99.30,224.17 101.30,225.30 C103.30,226.43 104.18,226.50 106.00,227.00 C107.82,227.50 110.53,227.47 112.20,228.30 C113.87,229.13 115.37,231.38 116.00,232.00" fill="none" stroke="#111" stroke-opacity="0.8" stroke-width="2.2"/>
<path d="M100.00,164.50 C101.00,163.82 104.17,161.28 106.00,160.40 C107.83,159.52 109.10,159.57 111.00,159.20 C112.90,158.83 115.23,158.98 117.40,158.20 C119.57,157.42 122.90,155.12 124.00,154.50" fill="none" stroke="#111" stroke-opacity="0.8" stroke-width="2.2"/>
<path d="M79.50,3.50 C79.58,5.08 79.80,9.58 80.00,13.00 C80.20,16.42 79.62,18.68 80.70,24.00 C81.78,29.32 84.77,38.90 86.50,44.90 C88.23,50.90 89.55,55.35 91.10,60.00 C92.65,64.65 94.25,68.92 95.80,72.80 C97.35,76.68 99.05,80.58 100.40,83.30 C101.75,86.02 102.97,87.75 103.90,89.10 C104.83,90.45 104.98,90.87 106.00,91.40 C107.02,91.93 108.63,92.03 110.00,92.30 C111.37,92.57 112.32,92.67 114.20,93.00 C116.08,93.33 118.93,93.52 121.30,94.30 C123.67,95.08 126.03,96.30 128.40,97.70 C130.77,99.10 133.38,100.88 135.50,102.70 C137.62,104.52 139.48,106.55 141.10,108.60 C142.72,110.65 144.07,113.05 145.20,115.00 C146.33,116.95 146.37,122.27 147.90,120.30 C149.43,118.33 152.12,108.75 154.40,103.20 C156.68,97.65 159.57,91.78 161.60,87.00 C163.63,82.22 164.95,78.70 166.60,74.50 C168.25,70.30 169.65,67.05 171.50,61.80 C173.35,56.55 175.75,48.97 177.70,43.00 C179.65,37.03 181.72,31.00 183.20,26.00 C184.68,21.00 185.77,16.75 186.60,13.00 C187.43,9.25 187.93,5.08 188.20,3.50" fill="none" stroke="#000" stroke-opacity="0.28" stroke-width="2.6"/>
<path d="M79.50,3.50 C79.58,5.08 79.80,9.58 80.00,13.00 C80.20,16.42 79.62,18.68 80.70,24.00 C81.78,29.32 84.77,38.90 86.50,44.90 C88.23,50.90 89.55,55.35 91.10,60.00 C92.65,64.65 94.25,68.92 95.80,72.80 C97.35,76.68 99.05,80.58 100.40,83.30 C101.75,86.02 102.97,87.75 103.90,89.10 C104.83,90.45 104.98,90.87 106.00,91.40 C107.02,91.93 108.63,92.03 110.00,92.30 C111.37,92.57 112.32,92.67 114.20,93.00 C116.08,93.33 118.93,93.52 121.30,94.30 C123.67,95.08 126.03,96.30 128.40,97.70 C130.77,99.10 133.38,100.88 135.50,102.70 C137.62,104.52 139.48,106.55 141.10,108.60 C142.72,110.65 144.07,113.05 145.20,115.00 C146.33,116.95 146.37,122.27 147.90,120.30 C149.43,118.33 152.12,108.75 154.40,103.20 C156.68,97.65 159.57,91.78 161.60,87.00 C163.63,82.22 164.95,78.70 166.60,74.50 C168.25,70.30 169.65,67.05 171.50,61.80 C173.35,56.55 175.75,48.97 177.70,43.00 C179.65,37.03 181.72,31.00 183.20,26.00 C184.68,21.00 185.77,16.75 186.60,13.00 C187.43,9.25 187.93,5.08 188.20,3.50" fill="none" stroke="#000" stroke-opacity="0.55" stroke-width="3.6" stroke-dasharray="1,4.5"/>
<path d="M39.30,248.00 C41.58,247.00 48.90,244.28 53.00,242.00 C57.10,239.72 60.78,237.13 63.90,234.30 C67.02,231.47 69.10,228.63 71.70,225.00 C74.30,221.37 77.28,217.00 79.50,212.50 C81.72,208.00 82.75,203.15 85.00,198.00 C87.25,192.85 90.30,186.58 93.00,181.60 C95.70,176.62 98.98,171.62 101.20,168.10 C103.42,164.58 104.83,161.85 106.30,160.50 C107.77,159.15 108.72,160.20 110.00,160.00 C111.28,159.80 112.23,159.78 114.00,159.30 C115.77,158.82 118.68,158.23 120.60,157.10 C122.52,155.97 123.78,154.38 125.50,152.50 C127.22,150.62 129.15,148.05 130.90,145.80 C132.65,143.55 134.28,141.23 136.00,139.00 C137.72,136.77 139.78,134.40 141.20,132.40 C142.62,130.40 143.38,129.02 144.50,127.00 C145.62,124.98 146.12,118.18 147.90,120.30 C149.68,122.42 152.18,132.42 155.20,139.70 C158.22,146.98 162.40,155.45 166.00,164.00 C169.60,172.55 173.42,182.88 176.80,191.00 C180.18,199.12 183.77,207.30 186.30,212.70 C188.83,218.10 188.98,219.80 192.00,223.40 C195.02,227.00 200.25,230.93 204.40,234.30 C208.55,237.67 213.07,241.32 216.90,243.60 C220.73,245.88 225.65,247.27 227.40,248.00" fill="none" stroke="#000" stroke-opacity="0.28" stroke-width="2.6"/>
<path d="M39.30,248.00 C41.58,247.00 48.90,244.28 53.00,242.00 C57.10,239.72 60.78,237.13 63.90,234.30 C67.02,231.47 69.10,228.63 71.70,225.00 C74.30,221.37 77.28,217.00 79.50,212.50 C81.72,208.00 82.75,203.15 85.00,198.00 C87.25,192.85 90.30,186.58 93.00,181.60 C95.70,176.62 98.98,171.62 101.20,168.10 C103.42,164.58 104.83,161.85 106.30,160.50 C107.77,159.15 108.72,160.20 110.00,160.00 C111.28,159.80 112.23,159.78 114.00,159.30 C115.77,158.82 118.68,158.23 120.60,157.10 C122.52,155.97 123.78,154.38 125.50,152.50 C127.22,150.62 129.15,148.05 130.90,145.80 C132.65,143.55 134.28,141.23 136.00,139.00 C137.72,136.77 139.78,134.40 141.20,132.40 C142.62,130.40 143.38,129.02 144.50,127.00 C145.62,124.98 146.12,118.18 147.90,120.30 C149.68,122.42 152.18,132.42 155.20,139.70 C158.22,146.98 162.40,155.45 166.00,164.00 C169.60,172.55 173.42,182.88 176.80,191.00 C180.18,199.12 183.77,207.30 186.30,212.70 C188.83,218.10 188.98,219.80 192.00,223.40 C195.02,227.00 200.25,230.93 204.40,234.30 C208.55,237.67 213.07,241.32 216.90,243.60 C220.73,245.88 225.65,247.27 227.40,248.00" fill="none" stroke="#000" stroke-opacity="0.55" stroke-width="3.6" stroke-dasharray="1,4.5"/>
<path d="M39.30,170.80 C41.50,171.70 48.05,172.83 52.50,176.20 C56.95,179.57 61.95,186.50 66.00,191.00 C70.05,195.50 74.30,199.88 76.80,203.20 C79.30,206.52 78.47,208.07 81.00,210.90 C83.53,213.73 88.62,217.77 92.00,220.20 C95.38,222.63 98.97,224.30 101.30,225.50 C103.63,226.70 104.15,226.92 106.00,227.40 C107.85,227.88 110.48,226.72 112.40,228.40 C114.32,230.08 115.78,233.73 117.50,237.50 C119.22,241.27 120.47,245.33 122.70,251.00 C124.93,256.67 128.15,265.33 130.90,271.50 C133.65,277.67 136.93,284.03 139.20,288.00 C141.47,291.97 143.05,293.87 144.50,295.30 C145.95,296.73 146.65,296.98 147.90,296.60 C149.15,296.22 150.37,295.60 152.00,293.00 C153.63,290.40 154.67,287.17 157.70,281.00 C160.73,274.83 166.05,264.30 170.20,256.00 C174.35,247.70 178.47,238.98 182.60,231.20 C186.73,223.42 191.37,215.53 195.00,209.30 C198.63,203.07 202.02,198.42 204.40,193.80 C206.78,189.18 207.13,184.98 209.30,181.60 C211.47,178.22 214.38,175.30 217.40,173.50 C220.42,171.70 225.73,171.25 227.40,170.80" fill="none" stroke="#000" stroke-opacity="0.28" stroke-width="2.6"/>
<path d="M39.30,170.80 C41.50,171.70 48.05,172.83 52.50,176.20 C56.95,179.57 61.95,186.50 66.00,191.00 C70.05,195.50 74.30,199.88 76.80,203.20 C79.30,206.52 78.47,208.07 81.00,210.90 C83.53,213.73 88.62,217.77 92.00,220.20 C95.38,222.63 98.97,224.30 101.30,225.50 C103.63,226.70 104.15,226.92 106.00,227.40 C107.85,227.88 110.48,226.72 112.40,228.40 C114.32,230.08 115.78,233.73 117.50,237.50 C119.22,241.27 120.47,245.33 122.70,251.00 C124.93,256.67 128.15,265.33 130.90,271.50 C133.65,277.67 136.93,284.03 139.20,288.00 C141.47,291.97 143.05,293.87 144.50,295.30 C145.95,296.73 146.65,296.98 147.90,296.60 C149.15,296.22 150.37,295.60 152.00,293.00 C153.63,290.40 154.67,287.17 157.70,281.00 C160.73,274.83 166.05,264.30 170.20,256.00 C174.35,247.70 178.47,238.98 182.60,231.20 C186.73,223.42 191.37,215.53 195.00,209.30 C198.63,203.07 202.02,198.42 204.40,193.80 C206.78,189.18 207.13,184.98 209.30,181.60 C211.47,178.22 214.38,175.30 217.40,173.50 C220.42,171.70 225.73,171.25 227.40,170.80" fill="none" stroke="#000" stroke-opacity="0.55" stroke-width="3.6" stroke-dasharray="1,4.5"/>
<path d="M39.30,170.80 C41.05,171.93 46.70,173.77 49.80,177.60 C52.90,181.43 55.42,188.40 57.90,193.80 C60.38,199.20 62.65,204.30 64.70,210.00 C66.75,215.70 67.73,220.83 70.20,228.00 C72.67,235.17 76.40,243.13 79.50,253.00 C82.60,262.87 85.80,276.12 88.80,287.20 C91.80,298.28 96.05,314.12 97.50,319.50" fill="none" stroke="#000" stroke-opacity="0.28" stroke-width="2.6"/>
<path d="M39.30,170.80 C41.05,171.93 46.70,173.77 49.80,177.60 C52.90,181.43 55.42,188.40 57.90,193.80 C60.38,199.20 62.65,204.30 64.70,210.00 C66.75,215.70 67.73,220.83 70.20,228.00 C72.67,235.17 76.40,243.13 79.50,253.00 C82.60,262.87 85.80,276.12 88.80,287.20 C91.80,298.28 96.05,314.12 97.50,319.50" fill="none" stroke="#000" stroke-opacity="0.55" stroke-width="3.6" stroke-dasharray="1,4.5"/>
<path d="M155.00,321.50 C157.17,315.92 163.75,299.02 168.00,288.00 C172.25,276.98 177.00,263.73 180.50,255.40 C184.00,247.07 186.23,243.53 189.00,238.00 C191.77,232.47 194.68,227.28 197.10,222.20 C199.52,217.12 201.43,212.33 203.50,207.50 C205.57,202.67 207.83,197.03 209.50,193.20 C211.17,189.37 212.12,187.27 213.50,184.50 C214.88,181.73 216.38,178.60 217.80,176.60 C219.22,174.60 220.40,173.47 222.00,172.50 C223.60,171.53 226.50,171.08 227.40,170.80" fill="none" stroke="#000" stroke-opacity="0.28" stroke-width="2.6"/>
<path d="M155.00,321.50 C157.17,315.92 163.75,299.02 168.00,288.00 C172.25,276.98 177.00,263.73 180.50,255.40 C184.00,247.07 186.23,243.53 189.00,238.00 C191.77,232.47 194.68,227.28 197.10,222.20 C199.52,217.12 201.43,212.33 203.50,207.50 C205.57,202.67 207.83,197.03 209.50,193.20 C211.17,189.37 212.12,187.27 213.50,184.50 C214.88,181.73 216.38,178.60 217.80,176.60 C219.22,174.60 220.40,173.47 222.00,172.50 C223.60,171.53 226.50,171.08 227.40,170.80" fill="none" stroke="#000" stroke-opacity="0.55" stroke-width="3.6" stroke-dasharray="1,4.5"/>
<path d="M39.30,45.70 C39.51,45.69 40.15,45.68 40.57,45.65 C41.00,45.62 41.42,45.57 41.85,45.51 C42.27,45.45 42.70,45.37 43.12,45.28 C43.54,45.18 43.97,45.07 44.39,44.95 C44.82,44.82 45.24,44.68 45.67,44.53 C46.09,44.37 46.52,44.20 46.94,44.01 C47.36,43.82 47.79,43.62 48.21,43.40 C48.64,43.18 49.06,42.95 49.49,42.70 C49.91,42.45 50.34,42.18 50.76,41.90 C51.18,41.62 51.61,41.32 52.03,41.01 C52.46,40.70 52.88,40.37 53.31,40.03 C53.73,39.68 54.16,39.32 54.58,38.95 C55.00,38.57 55.43,38.18 55.85,37.78 C56.28,37.37 56.70,36.95 57.13,36.51 C57.55,36.07 57.98,35.62 58.40,35.15 C58.82,34.68 59.25,34.20 59.67,33.70 C60.10,33.20 60.52,32.68 60.95,32.15 C61.37,31.62 61.80,31.07 62.22,30.51 C62.64,29.95 63.07,29.37 63.49,28.77 C63.92,28.18 64.34,27.57 64.77,26.94 C65.19,26.32 65.62,25.68 66.04,25.02 C66.46,24.37 66.89,23.69 67.31,23.01 C67.74,22.32 68.16,21.61 68.59,20.90 C69.01,20.18 69.44,19.44 69.86,18.69 C70.28,17.94 70.71,17.18 71.13,16.39 C71.56,15.61 71.98,14.82 72.41,14.00 C72.83,13.19 73.26,12.36 73.68,11.52 C74.10,10.67 74.53,9.81 74.95,8.94 C75.38,8.06 75.80,7.17 76.23,6.27 C76.65,5.36 77.29,3.96 77.50,3.50" fill="none" stroke="#e03434" stroke-width="1.7"/>
<path d="M39.30,54.30 C39.53,54.29 40.24,54.28 40.71,54.24 C41.18,54.21 41.64,54.15 42.11,54.07 C42.58,54.00 43.05,53.90 43.52,53.79 C43.99,53.68 44.46,53.55 44.93,53.40 C45.40,53.25 45.86,53.08 46.33,52.89 C46.80,52.70 47.27,52.49 47.74,52.27 C48.21,52.04 48.68,51.80 49.15,51.53 C49.62,51.27 50.08,50.99 50.55,50.69 C51.02,50.39 51.49,50.07 51.96,49.73 C52.43,49.39 52.90,49.03 53.37,48.66 C53.84,48.28 54.30,47.88 54.77,47.47 C55.24,47.06 55.71,46.62 56.18,46.17 C56.65,45.72 57.12,45.25 57.59,44.76 C58.06,44.27 58.52,43.76 58.99,43.24 C59.46,42.71 59.93,42.16 60.40,41.60 C60.87,41.04 61.34,40.45 61.81,39.85 C62.28,39.25 62.74,38.63 63.21,37.99 C63.68,37.35 64.15,36.69 64.62,36.01 C65.09,35.33 65.56,34.64 66.03,33.92 C66.50,33.21 66.96,32.47 67.43,31.72 C67.90,30.97 68.37,30.20 68.84,29.41 C69.31,28.62 69.78,27.81 70.25,26.98 C70.72,26.15 71.18,25.31 71.65,24.44 C72.12,23.58 72.59,22.69 73.06,21.79 C73.53,20.88 74.00,19.96 74.47,19.02 C74.94,18.08 75.40,17.12 75.87,16.14 C76.34,15.17 76.81,14.17 77.28,13.15 C77.75,12.14 78.22,11.10 78.69,10.05 C79.16,8.99 79.62,7.92 80.09,6.83 C80.56,5.74 81.27,4.06 81.50,3.50" fill="none" stroke="#e03434" stroke-width="1.7"/>
<path d="M39.30,68.80 C39.56,68.79 40.34,68.78 40.86,68.73 C41.38,68.68 41.89,68.61 42.41,68.51 C42.93,68.41 43.45,68.29 43.97,68.15 C44.49,68.00 45.01,67.83 45.53,67.64 C46.05,67.45 46.56,67.23 47.08,66.99 C47.60,66.74 48.12,66.48 48.64,66.19 C49.16,65.90 49.68,65.58 50.20,65.24 C50.72,64.91 51.23,64.54 51.75,64.16 C52.27,63.77 52.79,63.36 53.31,62.92 C53.83,62.49 54.35,62.03 54.87,61.54 C55.39,61.06 55.90,60.55 56.42,60.02 C56.94,59.49 57.46,58.93 57.98,58.35 C58.50,57.77 59.02,57.17 59.54,56.54 C60.06,55.91 60.57,55.26 61.09,54.58 C61.61,53.90 62.13,53.20 62.65,52.47 C63.17,51.75 63.69,51.00 64.21,50.23 C64.73,49.45 65.24,48.65 65.76,47.83 C66.28,47.01 66.80,46.16 67.32,45.29 C67.84,44.42 68.36,43.53 68.88,42.61 C69.40,41.69 69.91,40.75 70.43,39.78 C70.95,38.81 71.47,37.82 71.99,36.80 C72.51,35.79 73.03,34.75 73.55,33.68 C74.07,32.62 74.58,31.53 75.10,30.42 C75.62,29.31 76.14,28.17 76.66,27.01 C77.18,25.85 77.70,24.66 78.22,23.45 C78.74,22.24 79.25,21.01 79.77,19.75 C80.29,18.49 80.81,17.21 81.33,15.91 C81.85,14.60 82.37,13.27 82.89,11.92 C83.41,10.56 83.92,9.18 84.44,7.78 C84.96,6.38 85.74,4.21 86.00,3.50" fill="none" stroke="#e03434" stroke-width="1.7"/>
<path d="M227.40,44.60 C227.19,44.59 226.55,44.58 226.12,44.55 C225.69,44.52 225.27,44.48 224.84,44.42 C224.41,44.36 223.99,44.28 223.56,44.19 C223.13,44.10 222.71,43.99 222.28,43.87 C221.85,43.75 221.43,43.61 221.00,43.46 C220.57,43.31 220.15,43.14 219.72,42.96 C219.29,42.77 218.87,42.58 218.44,42.36 C218.01,42.15 217.59,41.92 217.16,41.68 C216.73,41.43 216.31,41.18 215.88,40.90 C215.45,40.63 215.03,40.34 214.60,40.03 C214.17,39.73 213.75,39.41 213.32,39.07 C212.89,38.74 212.47,38.39 212.04,38.02 C211.61,37.66 211.19,37.28 210.76,36.88 C210.33,36.49 209.91,36.08 209.48,35.65 C209.05,35.22 208.63,34.78 208.20,34.33 C207.77,33.87 207.35,33.40 206.92,32.91 C206.49,32.42 206.07,31.92 205.64,31.40 C205.21,30.88 204.79,30.35 204.36,29.80 C203.93,29.26 203.51,28.69 203.08,28.11 C202.65,27.54 202.23,26.94 201.80,26.33 C201.37,25.72 200.95,25.10 200.52,24.46 C200.09,23.82 199.67,23.17 199.24,22.50 C198.81,21.83 198.39,21.14 197.96,20.44 C197.53,19.74 197.11,19.03 196.68,18.30 C196.25,17.57 195.83,16.82 195.40,16.06 C194.97,15.30 194.55,14.52 194.12,13.73 C193.69,12.94 193.27,12.13 192.84,11.31 C192.41,10.49 191.99,9.65 191.56,8.80 C191.13,7.94 190.71,7.08 190.28,6.19 C189.85,5.31 189.21,3.95 189.00,3.50" fill="none" stroke="#e03434" stroke-width="1.7"/>
<path d="M227.40,54.50 C227.17,54.49 226.47,54.48 226.00,54.44 C225.54,54.41 225.07,54.35 224.61,54.27 C224.14,54.20 223.68,54.10 223.21,53.99 C222.74,53.88 222.28,53.74 221.81,53.59 C221.35,53.44 220.88,53.27 220.42,53.08 C219.95,52.89 219.49,52.69 219.02,52.46 C218.55,52.23 218.09,51.99 217.62,51.72 C217.16,51.46 216.69,51.18 216.23,50.87 C215.76,50.57 215.30,50.25 214.83,49.91 C214.36,49.57 213.90,49.21 213.43,48.83 C212.97,48.46 212.50,48.06 212.04,47.64 C211.57,47.23 211.11,46.79 210.64,46.34 C210.17,45.89 209.71,45.41 209.24,44.92 C208.78,44.43 208.31,43.92 207.85,43.39 C207.38,42.86 206.92,42.32 206.45,41.75 C205.98,41.18 205.52,40.60 205.05,39.99 C204.59,39.39 204.12,38.77 203.66,38.12 C203.19,37.48 202.73,36.82 202.26,36.14 C201.79,35.46 201.33,34.76 200.86,34.04 C200.40,33.33 199.93,32.59 199.47,31.83 C199.00,31.08 198.54,30.30 198.07,29.51 C197.60,28.72 197.14,27.90 196.67,27.07 C196.21,26.24 195.74,25.39 195.28,24.52 C194.81,23.65 194.35,22.77 193.88,21.86 C193.41,20.95 192.95,20.03 192.48,19.08 C192.02,18.14 191.55,17.18 191.09,16.19 C190.62,15.21 190.16,14.21 189.69,13.19 C189.22,12.17 188.76,11.13 188.29,10.07 C187.83,9.02 187.36,7.94 186.90,6.84 C186.43,5.75 185.73,4.06 185.50,3.50" fill="none" stroke="#e03434" stroke-width="1.7"/>
<path d="M227.40,68.80 C227.15,68.79 226.38,68.78 225.87,68.73 C225.36,68.68 224.85,68.61 224.34,68.51 C223.83,68.41 223.32,68.29 222.81,68.15 C222.30,68.00 221.79,67.83 221.28,67.64 C220.77,67.45 220.26,67.23 219.75,66.99 C219.24,66.74 218.73,66.48 218.22,66.19 C217.71,65.90 217.20,65.58 216.69,65.24 C216.18,64.91 215.67,64.54 215.16,64.16 C214.65,63.77 214.14,63.36 213.63,62.92 C213.12,62.49 212.61,62.03 212.10,61.54 C211.59,61.06 211.08,60.55 210.57,60.02 C210.06,59.49 209.55,58.93 209.04,58.35 C208.53,57.77 208.02,57.17 207.51,56.54 C207.00,55.91 206.49,55.26 205.98,54.58 C205.47,53.90 204.96,53.20 204.45,52.47 C203.94,51.75 203.43,51.00 202.92,50.23 C202.41,49.45 201.90,48.65 201.39,47.83 C200.88,47.01 200.37,46.16 199.86,45.29 C199.35,44.42 198.84,43.53 198.33,42.61 C197.82,41.69 197.31,40.75 196.80,39.78 C196.29,38.81 195.78,37.82 195.27,36.80 C194.76,35.79 194.25,34.75 193.74,33.68 C193.23,32.62 192.72,31.53 192.21,30.42 C191.70,29.31 191.19,28.17 190.68,27.01 C190.17,25.85 189.66,24.66 189.15,23.45 C188.64,22.24 188.13,21.01 187.62,19.75 C187.11,18.49 186.60,17.21 186.09,15.91 C185.58,14.60 185.07,13.27 184.56,11.92 C184.05,10.56 183.54,9.18 183.03,7.78 C182.52,6.38 181.75,4.21 181.50,3.50" fill="none" stroke="#e03434" stroke-width="1.7"/>
<path d="M39.30,7.10 C40.42,6.92 43.88,6.52 46.00,6.00 C48.12,5.48 51.00,4.33 52.00,4.00" fill="none" stroke="#e03434" stroke-width="1.7"/>
<path d="M227.40,7.10 C226.17,6.92 222.23,6.52 220.00,6.00 C217.77,5.48 215.00,4.33 214.00,4.00" fill="none" stroke="#e03434" stroke-width="1.7"/>
<path d="M79.50,3.50 C79.58,5.08 79.80,9.58 80.00,13.00 C80.20,16.42 79.62,18.68 80.70,24.00 C81.78,29.32 84.77,38.90 86.50,44.90 C88.23,50.90 89.55,55.35 91.10,60.00 C92.65,64.65 94.25,68.92 95.80,72.80 C97.35,76.68 99.05,80.58 100.40,83.30 C101.75,86.02 102.97,87.75 103.90,89.10 C104.83,90.45 104.98,90.87 106.00,91.40 C107.02,91.93 108.63,92.03 110.00,92.30 C111.37,92.57 112.32,92.67 114.20,93.00 C116.08,93.33 118.93,93.52 121.30,94.30 C123.67,95.08 126.03,96.30 128.40,97.70 C130.77,99.10 133.38,100.88 135.50,102.70 C137.62,104.52 139.48,106.55 141.10,108.60 C142.72,110.65 144.07,113.05 145.20,115.00 C146.33,116.95 146.37,122.27 147.90,120.30 C149.43,118.33 152.12,108.75 154.40,103.20 C156.68,97.65 159.57,91.78 161.60,87.00 C163.63,82.22 164.95,78.70 166.60,74.50 C168.25,70.30 169.65,67.05 171.50,61.80 C173.35,56.55 175.75,48.97 177.70,43.00 C179.65,37.03 181.72,31.00 183.20,26.00 C184.68,21.00 185.77,16.75 186.60,13.00 C187.43,9.25 187.93,5.08 188.20,3.50" fill="none" stroke="#d42626" stroke-width="1.45"/>
<path d="M39.30,248.00 C41.58,247.00 48.90,244.28 53.00,242.00 C57.10,239.72 60.78,237.13 63.90,234.30 C67.02,231.47 69.10,228.63 71.70,225.00 C74.30,221.37 77.28,217.00 79.50,212.50 C81.72,208.00 82.75,203.15 85.00,198.00 C87.25,192.85 90.30,186.58 93.00,181.60 C95.70,176.62 98.98,171.62 101.20,168.10 C103.42,164.58 104.83,161.85 106.30,160.50 C107.77,159.15 108.72,160.20 110.00,160.00 C111.28,159.80 112.23,159.78 114.00,159.30 C115.77,158.82 118.68,158.23 120.60,157.10 C122.52,155.97 123.78,154.38 125.50,152.50 C127.22,150.62 129.15,148.05 130.90,145.80 C132.65,143.55 134.28,141.23 136.00,139.00 C137.72,136.77 139.78,134.40 141.20,132.40 C142.62,130.40 143.38,129.02 144.50,127.00 C145.62,124.98 146.12,118.18 147.90,120.30 C149.68,122.42 152.18,132.42 155.20,139.70 C158.22,146.98 162.40,155.45 166.00,164.00 C169.60,172.55 173.42,182.88 176.80,191.00 C180.18,199.12 183.77,207.30 186.30,212.70 C188.83,218.10 188.98,219.80 192.00,223.40 C195.02,227.00 200.25,230.93 204.40,234.30 C208.55,237.67 213.07,241.32 216.90,243.60 C220.73,245.88 225.65,247.27 227.40,248.00" fill="none" stroke="#d42626" stroke-width="1.45"/>
<path d="M39.30,170.80 C41.50,171.70 48.05,172.83 52.50,176.20 C56.95,179.57 61.95,186.50 66.00,191.00 C70.05,195.50 74.30,199.88 76.80,203.20 C79.30,206.52 78.47,208.07 81.00,210.90 C83.53,213.73 88.62,217.77 92.00,220.20 C95.38,222.63 98.97,224.30 101.30,225.50 C103.63,226.70 104.15,226.92 106.00,227.40 C107.85,227.88 110.48,226.72 112.40,228.40 C114.32,230.08 115.78,233.73 117.50,237.50 C119.22,241.27 120.47,245.33 122.70,251.00 C124.93,256.67 128.15,265.33 130.90,271.50 C133.65,277.67 136.93,284.03 139.20,288.00 C141.47,291.97 143.05,293.87 144.50,295.30 C145.95,296.73 146.65,296.98 147.90,296.60 C149.15,296.22 150.37,295.60 152.00,293.00 C153.63,290.40 154.67,287.17 157.70,281.00 C160.73,274.83 166.05,264.30 170.20,256.00 C174.35,247.70 178.47,238.98 182.60,231.20 C186.73,223.42 191.37,215.53 195.00,209.30 C198.63,203.07 202.02,198.42 204.40,193.80 C206.78,189.18 207.13,184.98 209.30,181.60 C211.47,178.22 214.38,175.30 217.40,173.50 C220.42,171.70 225.73,171.25 227.40,170.80" fill="none" stroke="#d42626" stroke-width="1.45"/>
<path d="M39.30,170.80 C41.05,171.93 46.70,173.77 49.80,177.60 C52.90,181.43 55.42,188.40 57.90,193.80 C60.38,199.20 62.65,204.30 64.70,210.00 C66.75,215.70 67.73,220.83 70.20,228.00 C72.67,235.17 76.40,243.13 79.50,253.00 C82.60,262.87 85.80,276.12 88.80,287.20 C91.80,298.28 96.05,314.12 97.50,319.50" fill="none" stroke="#d42626" stroke-width="1.45"/>
<path d="M155.00,321.50 C157.17,315.92 163.75,299.02 168.00,288.00 C172.25,276.98 177.00,263.73 180.50,255.40 C184.00,247.07 186.23,243.53 189.00,238.00 C191.77,232.47 194.68,227.28 197.10,222.20 C199.52,217.12 201.43,212.33 203.50,207.50 C205.57,202.67 207.83,197.03 209.50,193.20 C211.17,189.37 212.12,187.27 213.50,184.50 C214.88,181.73 216.38,178.60 217.80,176.60 C219.22,174.60 220.40,173.47 222.00,172.50 C223.60,171.53 226.50,171.08 227.40,170.80" fill="none" stroke="#d42626" stroke-width="1.45"/>
</g>
<line x1="106.3" y1="3.65" x2="106.3" y2="317.5" stroke="#222" stroke-width="1.7"/>
<line x1="147.9" y1="3.65" x2="147.9" y2="317.5" stroke="#2a2a2a" stroke-width="1.7"/>
<rect x="39.3" y="3.65" width="188.10000000000002" height="317.55" fill="none" stroke="#111" stroke-width="1.5"/>
<line x1="39.3" y1="320.0" x2="44.3" y2="320.0" stroke="#111" stroke-width="1.4"/>
<line x1="227.4" y1="320.0" x2="222.4" y2="320.0" stroke="#111" stroke-width="1.4"/>
<line x1="39.3" y1="303.5" x2="44.3" y2="303.5" stroke="#111" stroke-width="1.4"/>
<line x1="227.4" y1="303.5" x2="222.4" y2="303.5" stroke="#111" stroke-width="1.4"/>
<line x1="39.3" y1="286.9" x2="48.3" y2="286.9" stroke="#111" stroke-width="1.4"/>
<line x1="227.4" y1="286.9" x2="218.4" y2="286.9" stroke="#111" stroke-width="1.4"/>
<line x1="39.3" y1="270.4" x2="44.3" y2="270.4" stroke="#111" stroke-width="1.4"/>
<line x1="227.4" y1="270.4" x2="222.4" y2="270.4" stroke="#111" stroke-width="1.4"/>
<line x1="39.3" y1="253.9" x2="44.3" y2="253.9" stroke="#111" stroke-width="1.4"/>
<line x1="227.4" y1="253.9" x2="222.4" y2="253.9" stroke="#111" stroke-width="1.4"/>
<line x1="39.3" y1="237.4" x2="44.3" y2="237.4" stroke="#111" stroke-width="1.4"/>
<line x1="227.4" y1="237.4" x2="222.4" y2="237.4" stroke="#111" stroke-width="1.4"/>
<line x1="39.3" y1="220.9" x2="44.3" y2="220.9" stroke="#111" stroke-width="1.4"/>
<line x1="227.4" y1="220.9" x2="222.4" y2="220.9" stroke="#111" stroke-width="1.4"/>
<line x1="39.3" y1="204.3" x2="48.3" y2="204.3" stroke="#111" stroke-width="1.4"/>
<line x1="227.4" y1="204.3" x2="218.4" y2="204.3" stroke="#111" stroke-width="1.4"/>
<line x1="39.3" y1="187.8" x2="44.3" y2="187.8" stroke="#111" stroke-width="1.4"/>
<line x1="227.4" y1="187.8" x2="222.4" y2="187.8" stroke="#111" stroke-width="1.4"/>
<line x1="39.3" y1="171.3" x2="44.3" y2="171.3" stroke="#111" stroke-width="1.4"/>
<line x1="227.4" y1="171.3" x2="222.4" y2="171.3" stroke="#111" stroke-width="1.4"/>
<line x1="39.3" y1="154.8" x2="44.3" y2="154.8" stroke="#111" stroke-width="1.4"/>
<line x1="227.4" y1="154.8" x2="222.4" y2="154.8" stroke="#111" stroke-width="1.4"/>
<line x1="39.3" y1="138.3" x2="44.3" y2="138.3" stroke="#111" stroke-width="1.4"/>
<line x1="227.4" y1="138.3" x2="222.4" y2="138.3" stroke="#111" stroke-width="1.4"/>
<line x1="39.3" y1="121.8" x2="48.3" y2="121.8" stroke="#111" stroke-width="1.4"/>
<line x1="227.4" y1="121.8" x2="218.4" y2="121.8" stroke="#111" stroke-width="1.4"/>
<line x1="39.3" y1="105.2" x2="44.3" y2="105.2" stroke="#111" stroke-width="1.4"/>
<line x1="227.4" y1="105.2" x2="222.4" y2="105.2" stroke="#111" stroke-width="1.4"/>
<line x1="39.3" y1="88.7" x2="44.3" y2="88.7" stroke="#111" stroke-width="1.4"/>
<line x1="227.4" y1="88.7" x2="222.4" y2="88.7" stroke="#111" stroke-width="1.4"/>
<line x1="39.3" y1="72.2" x2="44.3" y2="72.2" stroke="#111" stroke-width="1.4"/>
<line x1="227.4" y1="72.2" x2="222.4" y2="72.2" stroke="#111" stroke-width="1.4"/>
<line x1="39.3" y1="55.7" x2="44.3" y2="55.7" stroke="#111" stroke-width="1.4"/>
<line x1="227.4" y1="55.7" x2="222.4" y2="55.7" stroke="#111" stroke-width="1.4"/>
<line x1="39.3" y1="39.2" x2="48.3" y2="39.2" stroke="#111" stroke-width="1.4"/>
<line x1="227.4" y1="39.2" x2="218.4" y2="39.2" stroke="#111" stroke-width="1.4"/>
<line x1="39.3" y1="22.6" x2="44.3" y2="22.6" stroke="#111" stroke-width="1.4"/>
<line x1="227.4" y1="22.6" x2="222.4" y2="22.6" stroke="#111" stroke-width="1.4"/>
<line x1="39.3" y1="6.1" x2="44.3" y2="6.1" stroke="#111" stroke-width="1.4"/>
<line x1="227.4" y1="6.1" x2="222.4" y2="6.1" stroke="#111" stroke-width="1.4"/>
<text x="34.0" y="45.5" font-family="'Liberation Sans', sans-serif" font-size="17.5" text-anchor="end" fill="#111">5</text>
<text x="34.0" y="128.1" font-family="'Liberation Sans', sans-serif" font-size="17.5" text-anchor="end" fill="#111">0</text>
<text x="34.0" y="210.7" font-family="'Liberation Sans', sans-serif" font-size="17.5" text-anchor="end" fill="#111">-5</text>
<text x="34.0" y="293.2" font-family="'Liberation Sans', sans-serif" font-size="17.5" text-anchor="end" fill="#111">-10</text>
<text x="39.3" y="347.8" font-family="'Liberation Sans', sans-serif" font-size="18" text-anchor="middle" fill="#111">&#915;</text>
<text x="109.6" y="347.8" font-family="'Liberation Sans', sans-serif" font-size="18" text-anchor="middle" fill="#111">M</text>
<text x="150.9" y="347.8" font-family="'Liberation Sans', sans-serif" font-size="18" text-anchor="middle" fill="#111">K</text>
<text x="230.9" y="347.8" font-family="'Liberation Sans', sans-serif" font-size="18" text-anchor="middle" fill="#111">&#915;</text>
<text transform="translate(15.5,193.0) rotate(-90)" font-family="'Liberation Sans', sans-serif" font-size="17.5" textLength="94" lengthAdjust="spacingAndGlyphs" fill="#111">Energy (eV)</text>
<text x="16.6" y="14.8" font-family="'Liberation Sans', sans-serif" font-size="13" fill="#222">(a)</text>
<line x1="285" y1="291.8" x2="285" y2="308.9" stroke="#6e6ee8" stroke-width="1.8"/>
<line x1="289.8" y1="291.8" x2="289.8" y2="308.9" stroke="#6e6ee8" stroke-width="1.8"/>
<line x1="293.8" y1="291.8" x2="293.8" y2="308.9" stroke="#6e6ee8" stroke-width="1.8"/>
<line x1="352.9" y1="291.8" x2="352.9" y2="308.9" stroke="#6e6ee8" stroke-width="1.8"/>
<line x1="383.2" y1="291.8" x2="383.2" y2="308.9" stroke="#6e6ee8" stroke-width="1.8"/>
<line x1="398" y1="291.8" x2="398" y2="308.9" stroke="#6e6ee8" stroke-width="1.8"/>
<line x1="404.1" y1="291.8" x2="404.1" y2="308.9" stroke="#6e6ee8" stroke-width="1.8"/>
<line x1="408.4" y1="291.8" x2="408.4" y2="308.9" stroke="#6e6ee8" stroke-width="1.8"/>
<line x1="431.6" y1="291.8" x2="431.6" y2="308.9" stroke="#6e6ee8" stroke-width="1.8"/>
<line x1="450.8" y1="291.8" x2="450.8" y2="308.9" stroke="#6e6ee8" stroke-width="1.8"/>
<line x1="458.8" y1="291.8" x2="458.8" y2="308.9" stroke="#6e6ee8" stroke-width="1.8"/>
<line x1="468.8" y1="291.8" x2="468.8" y2="308.9" stroke="#6e6ee8" stroke-width="1.8"/>
<line x1="474.6" y1="291.8" x2="474.6" y2="308.9" stroke="#6e6ee8" stroke-width="1.8"/>
<line x1="477.8" y1="291.8" x2="477.8" y2="308.9" stroke="#6e6ee8" stroke-width="1.8"/>
<line x1="479.4" y1="291.8" x2="479.4" y2="308.9" stroke="#6e6ee8" stroke-width="1.8"/>
<line x1="481" y1="291.8" x2="481" y2="308.9" stroke="#6e6ee8" stroke-width="1.8"/>
<line x1="482.4" y1="291.8" x2="482.4" y2="308.9" stroke="#6e6ee8" stroke-width="1.8"/>
<line x1="486.2" y1="291.8" x2="486.2" y2="308.9" stroke="#6e6ee8" stroke-width="1.8"/>
<line x1="495.6" y1="291.8" x2="495.6" y2="308.9" stroke="#6e6ee8" stroke-width="1.8"/>
<line x1="497.8" y1="291.8" x2="497.8" y2="308.9" stroke="#6e6ee8" stroke-width="1.8"/>
<line x1="502.2" y1="291.8" x2="502.2" y2="308.9" stroke="#6e6ee8" stroke-width="1.8"/>
<line x1="507.8" y1="291.8" x2="507.8" y2="308.9" stroke="#6e6ee8" stroke-width="1.8"/>
<line x1="509.4" y1="291.8" x2="509.4" y2="308.9" stroke="#6e6ee8" stroke-width="1.8"/>
<line x1="513.9" y1="291.8" x2="513.9" y2="308.9" stroke="#6e6ee8" stroke-width="1.8"/>
<line x1="532.2" y1="291.8" x2="532.2" y2="308.9" stroke="#6e6ee8" stroke-width="1.8"/>
<line x1="537" y1="291.8" x2="537" y2="308.9" stroke="#6e6ee8" stroke-width="1.8"/>
<line x1="538.8" y1="291.8" x2="538.8" y2="308.9" stroke="#6e6ee8" stroke-width="1.8"/>
<line x1="596.7" y1="291.8" x2="596.7" y2="308.9" stroke="#6e6ee8" stroke-width="1.8"/>
<line x1="603.5" y1="291.8" x2="603.5" y2="308.9" stroke="#6e6ee8" stroke-width="1.8"/>
<line x1="608.6" y1="291.8" x2="608.6" y2="308.9" stroke="#6e6ee8" stroke-width="1.8"/>
<line x1="609.9" y1="291.8" x2="609.9" y2="308.9" stroke="#6e6ee8" stroke-width="1.8"/>
<line x1="611.2" y1="291.8" x2="611.2" y2="308.9" stroke="#6e6ee8" stroke-width="1.8"/>
<line x1="559.0" y1="2.2" x2="559.0" y2="321.2" stroke="#111" stroke-width="1.7" stroke-dasharray="4.6,2.6,1.5,3.1" stroke-dashoffset="0.9"/>
<path d="M284.00,183.00 C289.08,183.00 309.03,183.25 314.50,183.00 C319.97,182.75 316.12,182.67 316.80,181.50 C317.48,180.33 318.07,179.58 318.60,176.00 C319.13,172.42 319.55,166.00 320.00,160.00 C320.45,154.00 320.85,144.40 321.30,140.00 C321.75,135.60 321.92,134.80 322.70,133.60 C323.48,132.40 324.12,133.00 326.00,132.80 C327.88,132.60 331.40,132.52 334.00,132.40 C336.60,132.28 340.10,132.23 341.60,132.10 C343.10,131.97 342.65,131.66 343.00,131.62 C343.35,131.58 343.47,131.80 343.70,131.88 C343.93,131.95 344.17,132.06 344.40,132.06 C344.63,132.05 344.87,131.96 345.10,131.84 C345.33,131.72 345.57,131.46 345.80,131.32 C346.03,131.17 346.27,130.99 346.50,130.97 C346.73,130.94 346.97,131.03 347.20,131.15 C347.43,131.27 347.67,131.55 347.90,131.68 C348.13,131.81 348.37,131.95 348.60,131.93 C348.83,131.90 349.07,131.70 349.30,131.50 C349.53,131.30 349.77,130.91 350.00,130.72 C350.23,130.52 350.47,130.33 350.70,130.33 C350.93,130.34 351.17,130.56 351.40,130.76 C351.63,130.96 351.87,131.36 352.10,131.53 C352.33,131.70 352.57,131.85 352.80,131.77 C353.03,131.70 353.27,131.37 353.50,131.09 C353.73,130.80 353.97,130.29 354.20,130.07 C354.43,129.84 354.67,129.68 354.90,129.73 C355.13,129.79 355.37,130.13 355.60,130.40 C355.83,130.67 356.07,131.18 356.30,131.36 C356.53,131.53 356.77,131.62 357.00,131.46 C357.23,131.30 357.47,130.80 357.70,130.42 C357.93,130.04 358.17,129.41 358.40,129.16 C358.63,128.91 358.87,128.80 359.10,128.92 C359.33,129.04 359.57,129.56 359.80,129.91 C360.03,130.26 360.27,130.85 360.50,131.02 C360.73,131.20 360.97,131.19 361.20,130.95 C361.43,130.71 361.67,130.04 361.90,129.58 C362.13,129.12 362.37,128.42 362.60,128.19 C362.83,127.95 363.07,127.94 363.30,128.16 C363.53,128.38 363.77,129.07 364.00,129.49 C364.23,129.91 364.47,130.56 364.70,130.70 C364.93,130.85 365.17,130.72 365.40,130.38 C365.63,130.03 365.87,129.19 366.10,128.64 C366.33,128.09 366.57,127.30 366.80,127.07 C367.03,126.83 367.27,126.93 367.50,127.21 C367.73,127.49 367.97,128.31 368.20,128.75 C368.43,129.19 368.67,129.81 368.90,129.86 C369.13,129.91 369.37,129.57 369.60,129.08 C369.83,128.58 370.07,127.52 370.30,126.90 C370.53,126.28 370.77,125.53 371.00,125.35 C371.23,125.18 371.47,125.46 371.70,125.86 C371.93,126.25 372.17,127.24 372.40,127.72 C372.63,128.20 372.87,128.78 373.10,128.76 C373.33,128.74 373.57,128.19 373.80,127.58 C374.03,126.97 374.27,125.78 374.50,125.11 C374.73,124.44 374.97,123.73 375.20,123.57 C375.43,123.41 375.67,123.76 375.90,124.15 C376.13,124.54 376.37,125.56 376.60,125.94 C376.83,126.33 376.80,127.39 377.30,126.46 C377.80,125.54 378.90,121.78 379.60,120.40 C380.30,119.02 380.93,119.52 381.50,118.20 C382.07,116.88 382.55,113.85 383.00,112.50 C383.45,111.15 383.78,109.52 384.20,110.10 C384.62,110.68 385.07,113.18 385.50,116.00 C385.93,118.82 386.32,123.80 386.80,127.00 C387.28,130.20 387.82,133.20 388.40,135.20 C388.98,137.20 389.82,137.20 390.30,139.00 C390.78,140.80 391.02,143.78 391.30,146.00 C391.58,148.22 391.63,150.97 392.00,152.30 C392.37,153.63 393.03,153.38 393.50,154.00 C393.97,154.62 394.30,157.33 394.80,156.00 C395.30,154.67 395.90,149.92 396.50,146.00 C397.10,142.08 397.50,135.60 398.40,132.50 C399.30,129.40 400.98,128.90 401.90,127.40 C402.82,125.90 403.22,125.43 403.90,123.50 C404.58,121.57 405.35,117.95 406.00,115.80 C406.65,113.65 407.12,110.60 407.80,110.60 C408.48,110.60 409.37,114.08 410.10,115.80 C410.83,117.52 411.22,119.27 412.20,120.90 C413.18,122.53 414.72,124.08 416.00,125.60 C417.28,127.12 418.82,128.85 419.90,130.00 C420.98,131.15 421.52,131.35 422.50,132.50 C423.48,133.65 424.87,136.62 425.80,136.90 C426.73,137.18 427.20,136.03 428.10,134.20 C429.00,132.37 429.83,127.88 431.20,125.90 C432.57,123.92 435.25,122.91 436.30,122.30 C437.35,121.69 437.20,122.04 437.50,122.24 C437.80,122.43 437.90,123.18 438.10,123.47 C438.30,123.75 438.50,123.98 438.70,123.95 C438.90,123.92 439.10,123.66 439.30,123.30 C439.50,122.93 439.70,122.28 439.90,121.74 C440.10,121.20 440.30,120.50 440.50,120.06 C440.70,119.61 440.90,119.21 441.10,119.09 C441.30,118.96 441.50,119.06 441.70,119.28 C441.90,119.51 442.10,120.03 442.30,120.45 C442.50,120.88 442.70,121.48 442.90,121.83 C443.10,122.18 443.30,122.50 443.50,122.54 C443.70,122.58 443.90,122.39 444.10,122.06 C444.30,121.72 444.50,121.09 444.70,120.53 C444.90,119.97 445.10,119.20 445.30,118.70 C445.50,118.19 445.70,117.70 445.90,117.50 C446.10,117.30 446.30,117.32 446.50,117.51 C446.70,117.70 446.90,118.20 447.10,118.64 C447.30,119.08 447.50,119.75 447.70,120.15 C447.90,120.55 448.10,120.95 448.30,121.03 C448.50,121.12 448.70,120.97 448.90,120.64 C449.10,120.31 449.30,119.66 449.50,119.06 C449.70,118.45 449.90,117.60 450.10,117.00 C450.30,116.40 450.50,115.76 450.70,115.45 C450.90,115.14 451.10,115.04 451.30,115.14 C451.50,115.24 451.70,115.67 451.90,116.08 C452.10,116.49 452.30,117.16 452.50,117.59 C452.70,118.01 452.90,118.50 453.10,118.64 C453.30,118.79 453.50,118.75 453.70,118.48 C453.90,118.20 454.10,117.60 454.30,116.99 C454.50,116.39 454.70,115.50 454.90,114.84 C455.10,114.19 455.30,113.46 455.50,113.07 C455.70,112.68 455.90,112.47 456.10,112.51 C456.30,112.56 456.50,112.93 456.70,113.34 C456.90,113.74 457.10,114.44 457.30,114.92 C457.50,115.40 457.70,115.97 457.90,116.20 C458.10,116.43 457.88,117.24 458.50,116.29 C459.12,115.34 460.80,112.38 461.60,110.50 C462.40,108.62 462.85,107.58 463.30,105.00 C463.75,102.42 463.98,99.50 464.30,95.00 C464.62,90.50 464.85,82.58 465.20,78.00 C465.55,73.42 465.87,70.62 466.40,67.50 C466.93,64.38 467.65,61.10 468.40,59.30 C469.15,57.50 470.13,58.63 470.90,56.70 C471.67,54.77 472.35,49.42 473.00,47.70 C473.65,45.98 474.07,49.62 474.80,46.40 C475.53,43.18 476.53,34.93 477.40,28.40 C478.27,21.87 479.15,7.63 480.00,7.20 C480.85,6.77 481.80,20.83 482.50,25.80 C483.20,30.77 483.60,33.30 484.20,37.00 C484.80,40.70 485.48,44.65 486.10,48.00 C486.72,51.35 487.30,54.83 487.90,57.10 C488.50,59.37 489.10,59.65 489.70,61.60 C490.30,63.55 490.90,67.75 491.50,68.80 C492.10,69.85 492.70,66.55 493.30,67.90 C493.90,69.25 494.48,75.70 495.10,76.90 C495.72,78.10 496.23,74.20 497.00,75.10 C497.77,76.00 498.80,80.95 499.70,82.30 C500.60,83.65 501.50,82.58 502.40,83.20 C503.30,83.82 504.28,85.67 505.10,86.00 C505.92,86.33 506.55,84.75 507.30,85.20 C508.05,85.65 508.98,88.23 509.60,88.70 C510.22,89.17 510.55,87.55 511.00,88.00 C511.45,88.45 511.78,91.28 512.30,91.40 C512.82,91.52 513.50,88.40 514.10,88.70 C514.70,89.00 515.23,92.90 515.90,93.20 C516.57,93.50 517.43,90.50 518.10,90.50 C518.77,90.50 519.37,91.70 519.90,93.20 C520.43,94.70 520.82,96.70 521.30,99.50 C521.78,102.30 522.13,106.67 522.80,110.00 C523.47,113.33 524.53,120.50 525.30,119.50 C526.07,118.50 526.75,107.62 527.40,104.00 C528.05,100.38 528.52,97.13 529.20,97.80 C529.88,98.47 530.68,103.72 531.50,108.00 C532.32,112.28 533.25,118.33 534.10,123.50 C534.95,128.67 535.75,134.70 536.60,139.00 C537.45,143.30 538.20,146.63 539.20,149.30 C540.20,151.97 541.60,153.05 542.60,155.00 C543.60,156.95 543.92,158.72 545.20,161.00 C546.48,163.28 548.58,166.13 550.30,168.70 C552.02,171.27 554.12,174.47 555.50,176.40 C556.88,178.33 557.53,180.30 558.60,180.30 C559.67,180.30 560.70,177.92 561.90,176.40 C563.10,174.88 564.52,173.77 565.80,171.20 C567.08,168.63 568.53,163.78 569.60,161.00 C570.67,158.22 571.55,157.08 572.20,154.50 C572.85,151.92 573.07,148.37 573.50,145.50 C573.93,142.63 574.15,142.97 574.80,137.30 C575.45,131.63 576.53,119.65 577.40,111.50 C578.27,103.35 579.15,88.40 580.00,88.40 C580.85,88.40 581.65,106.57 582.50,111.50 C583.35,116.43 584.23,115.20 585.10,118.00 C585.97,120.80 586.83,125.93 587.70,128.30 C588.57,130.67 589.45,130.48 590.30,132.20 C591.15,133.92 591.95,138.38 592.80,138.60 C593.65,138.82 594.53,136.28 595.40,133.50 C596.27,130.72 597.13,126.42 598.00,121.90 C598.87,117.38 599.75,108.55 600.60,106.40 C601.45,104.25 602.03,109.87 603.10,109.00 C604.17,108.13 605.92,105.07 607.00,101.20 C608.08,97.33 608.73,90.52 609.60,85.80 C610.47,81.08 611.35,77.32 612.20,72.90 C613.05,68.48 613.85,63.93 614.70,59.30 C615.55,54.67 616.65,48.53 617.30,45.10 C617.95,41.67 617.95,38.70 618.60,38.70 C619.25,38.70 620.33,44.68 621.20,45.10 C622.07,45.52 622.95,40.98 623.80,41.20 C624.65,41.42 625.45,46.60 626.30,46.40 C627.15,46.20 628.03,39.78 628.90,40.00 C629.77,40.22 630.77,47.28 631.50,47.70 C632.23,48.12 632.65,44.00 633.30,42.50 C633.95,41.00 634.72,37.62 635.40,38.70 C636.08,39.78 636.77,44.28 637.40,49.00 C638.03,53.72 638.68,65.72 639.20,67.00 C639.72,68.28 640.07,63.57 640.50,56.70 C640.93,49.83 641.37,32.67 641.80,25.80 C642.23,18.93 642.73,18.97 643.10,15.50 C643.47,12.03 643.85,6.75 644.00,5.00" fill="none" stroke="#d02a2a" stroke-width="1.85" stroke-linejoin="round"/>
<path d="M264.50,252.50 C266.82,252.50 275.85,252.83 278.40,252.50 C280.95,252.17 279.23,253.33 279.80,250.50 C280.37,247.67 281.22,240.32 281.80,235.50 C282.38,230.68 282.85,223.18 283.30,221.60 C283.75,220.02 284.12,224.07 284.50,226.00 C284.88,227.93 285.18,233.20 285.60,233.20 C286.02,233.20 286.48,228.23 287.00,226.00 C287.52,223.77 288.15,219.63 288.70,219.80 C289.25,219.97 289.70,226.82 290.30,227.00 C290.90,227.18 291.77,220.73 292.30,220.90 C292.83,221.07 293.07,224.78 293.50,228.00 C293.93,231.22 294.48,236.87 294.90,240.20 C295.32,243.53 295.57,246.12 296.00,248.00 C296.43,249.88 296.83,250.75 297.50,251.50 C298.17,252.25 296.92,252.33 300.00,252.50 C303.08,252.67 313.12,252.75 316.00,252.50 C318.88,252.25 316.88,252.08 317.30,251.00 C317.72,249.92 318.05,249.17 318.50,246.00 C318.95,242.83 319.55,236.00 320.00,232.00 C320.45,228.00 320.78,224.42 321.20,222.00 C321.62,219.58 321.87,218.72 322.50,217.50 C323.13,216.28 323.75,215.23 325.00,214.70 C326.25,214.17 327.50,214.40 330.00,214.30 C332.50,214.20 337.90,214.35 340.00,214.10 C342.10,213.85 341.73,213.23 342.60,212.80 C343.47,212.37 344.35,212.78 345.20,211.50 C346.05,210.22 346.85,207.02 347.70,205.10 C348.55,203.18 349.43,199.87 350.30,200.00 C351.17,200.13 352.03,204.48 352.90,205.90 C353.77,207.32 354.78,207.40 355.50,208.50 C356.22,209.60 356.65,212.58 357.20,212.50 C357.75,212.42 358.23,208.00 358.80,208.00 C359.37,208.00 360.00,212.58 360.60,212.50 C361.20,212.42 361.80,207.42 362.40,207.50 C363.00,207.58 363.60,213.00 364.20,213.00 C364.80,213.00 365.40,207.58 366.00,207.50 C366.60,207.42 367.20,212.67 367.80,212.50 C368.40,212.33 369.00,206.67 369.60,206.50 C370.20,206.33 370.75,211.75 371.40,211.50 C372.05,211.25 372.72,206.50 373.50,205.00 C374.28,203.50 375.23,203.33 376.10,202.50 C376.97,201.67 378.05,202.78 378.70,200.00 C379.35,197.22 379.58,191.27 380.00,185.80 C380.42,180.33 380.65,167.63 381.20,167.20 C381.75,166.77 382.65,178.38 383.30,183.20 C383.95,188.02 384.37,192.45 385.10,196.10 C385.83,199.75 386.83,201.67 387.70,205.10 C388.57,208.53 389.57,212.70 390.30,216.70 C391.03,220.70 391.47,228.67 392.10,229.10 C392.73,229.53 393.33,223.52 394.10,219.30 C394.87,215.08 395.92,207.45 396.70,203.80 C397.48,200.15 398.15,198.47 398.80,197.40 C399.45,196.33 400.00,199.77 400.60,197.40 C401.20,195.03 401.85,185.92 402.40,183.20 C402.95,180.48 403.35,180.88 403.90,181.10 C404.45,181.32 405.10,184.37 405.70,184.50 C406.30,184.63 406.93,181.25 407.50,181.90 C408.07,182.55 408.53,185.60 409.10,188.40 C409.67,191.20 410.17,195.70 410.90,198.70 C411.63,201.70 412.65,204.68 413.50,206.40 C414.35,208.12 415.15,208.15 416.00,209.00 C416.85,209.85 417.73,210.87 418.60,211.50 C419.47,212.13 420.33,212.28 421.20,212.80 C422.07,213.32 422.95,216.53 423.80,214.60 C424.65,212.67 425.58,206.00 426.30,201.20 C427.02,196.40 427.53,189.87 428.10,185.80 C428.67,181.73 429.13,176.80 429.70,176.80 C430.27,176.80 430.77,182.15 431.50,185.80 C432.23,189.45 433.25,195.27 434.10,198.70 C434.95,202.13 435.75,205.98 436.60,206.40 C437.45,206.82 438.55,202.35 439.20,201.20 C439.85,200.05 439.93,198.42 440.50,199.50 C441.07,200.58 441.92,207.83 442.60,207.70 C443.28,207.57 443.97,201.28 444.60,198.70 C445.23,196.12 445.67,194.57 446.40,192.20 C447.13,189.83 448.13,185.57 449.00,184.50 C449.87,183.43 450.73,186.67 451.60,185.80 C452.47,184.93 453.33,182.73 454.20,179.30 C455.07,175.87 456.25,168.70 456.80,165.20 C457.35,161.70 457.08,156.17 457.50,158.30 C457.92,160.43 458.70,173.42 459.30,178.00 C459.90,182.58 460.45,186.65 461.10,185.80 C461.75,184.95 462.42,180.28 463.20,172.90 C463.98,165.52 465.07,148.65 465.80,141.50 C466.53,134.35 466.97,131.28 467.60,130.00 C468.23,128.72 468.97,132.08 469.60,133.80 C470.23,135.52 470.75,142.87 471.40,140.30 C472.05,137.73 472.72,124.63 473.50,118.40 C474.28,112.17 475.28,107.63 476.10,102.90 C476.92,98.17 477.65,96.78 478.40,90.00 C479.15,83.22 479.83,60.92 480.60,62.20 C481.37,63.48 482.20,87.48 483.00,97.70 C483.80,107.92 484.58,117.45 485.40,123.50 C486.22,129.55 487.03,131.15 487.90,134.00 C488.77,136.85 489.63,138.30 490.60,140.60 C491.57,142.90 492.83,146.83 493.70,147.80 C494.57,148.77 495.12,145.53 495.80,146.40 C496.48,147.27 497.12,152.42 497.80,153.00 C498.48,153.58 499.03,148.53 499.90,149.90 C500.77,151.27 502.07,162.85 503.00,161.20 C503.93,159.55 504.72,145.32 505.50,140.00 C506.28,134.68 506.80,127.32 507.70,129.30 C508.60,131.28 509.93,146.00 510.90,151.90 C511.87,157.80 512.65,161.70 513.50,164.70 C514.35,167.70 515.15,167.75 516.00,169.90 C516.85,172.05 517.73,174.58 518.60,177.60 C519.47,180.62 520.38,184.50 521.20,188.00 C522.02,191.50 522.82,198.27 523.50,198.60 C524.18,198.93 524.62,196.15 525.30,190.00 C525.98,183.85 526.87,172.37 527.60,161.70 C528.33,151.03 529.05,128.07 529.70,126.00 C530.35,123.93 531.03,141.98 531.50,149.30 C531.97,156.62 532.12,165.12 532.50,169.90 C532.88,174.68 533.25,179.37 533.80,178.00 C534.35,176.63 535.18,164.37 535.80,161.70 C536.42,159.03 536.92,159.78 537.50,162.00 C538.08,164.22 538.82,169.80 539.30,175.00 C539.78,180.20 539.95,186.32 540.40,193.20 C540.85,200.08 541.42,210.13 542.00,216.30 C542.58,222.47 543.20,227.10 543.90,230.20 C544.60,233.30 545.50,233.93 546.20,234.90 C546.90,235.87 547.33,234.47 548.10,236.00 C548.87,237.53 549.95,241.78 550.80,244.10 C551.65,246.42 552.42,249.90 553.20,249.90 C553.98,249.90 554.82,247.00 555.50,244.10 C556.18,241.20 556.72,235.78 557.30,232.50 C557.88,229.22 558.45,224.00 559.00,224.40 C559.55,224.80 560.03,231.23 560.60,234.90 C561.17,238.57 561.78,243.70 562.40,246.40 C563.02,249.10 563.52,251.48 564.30,251.10 C565.08,250.72 566.07,246.23 567.10,244.10 C568.13,241.97 569.35,240.62 570.50,238.30 C571.65,235.98 573.03,233.48 574.00,230.20 C574.97,226.92 575.53,223.23 576.30,218.60 C577.07,213.97 577.82,206.45 578.60,202.40 C579.38,198.35 580.30,195.83 581.00,194.30 C581.70,192.77 582.03,192.23 582.80,193.20 C583.57,194.17 584.52,197.05 585.60,200.10 C586.68,203.15 588.13,211.73 589.30,211.50 C590.47,211.27 591.77,203.35 592.60,198.70 C593.43,194.05 593.73,187.80 594.30,183.60 C594.87,179.40 595.30,173.50 596.00,173.50 C596.70,173.50 597.58,180.67 598.50,183.60 C599.42,186.53 600.67,191.10 601.50,191.10 C602.33,191.10 602.88,186.82 603.50,183.60 C604.12,180.38 604.63,175.17 605.20,171.80 C605.77,168.43 606.33,165.37 606.90,163.40 C607.47,161.43 608.05,162.07 608.60,160.00 C609.15,157.93 609.75,155.17 610.20,151.00 C610.65,146.83 610.93,139.27 611.30,135.00 C611.67,130.73 611.88,125.47 612.40,125.40 C612.92,125.33 613.72,132.88 614.40,134.60 C615.08,136.32 615.80,135.70 616.50,135.70 C617.20,135.70 617.92,133.75 618.60,134.60 C619.28,135.45 619.92,139.42 620.60,140.80 C621.28,142.18 621.83,143.42 622.70,142.90 C623.57,142.38 624.95,138.73 625.80,137.70 C626.65,136.67 627.12,137.73 627.80,136.70 C628.48,135.67 629.20,134.08 629.90,131.50 C630.60,128.92 631.42,124.63 632.00,121.20 C632.58,117.77 632.88,114.33 633.40,110.90 C633.92,107.47 634.65,102.48 635.10,100.60 C635.55,98.72 635.70,99.08 636.10,99.60 C636.50,100.12 636.98,103.18 637.50,103.70 C638.02,104.22 638.75,104.58 639.20,102.70 C639.65,100.82 639.68,94.30 640.20,92.40 C640.72,90.50 641.62,91.82 642.30,91.30 C642.98,90.78 643.60,89.85 644.30,89.30 C645.00,88.75 646.13,88.22 646.50,88.00" fill="none" stroke="#111" stroke-width="1.7" stroke-linejoin="round"/>
<path d="M266.00,311.30 C267.55,310.68 272.92,309.75 275.30,307.60 C277.68,305.45 279.12,302.53 280.30,298.40 C281.48,294.27 281.68,285.93 282.40,282.80 C283.12,279.67 284.00,280.40 284.60,279.60 C285.20,278.80 285.30,278.85 286.00,278.00 C286.70,277.15 287.97,274.75 288.80,274.50 C289.63,274.25 290.30,275.83 291.00,276.50 C291.70,277.17 292.35,276.03 293.00,278.50 C293.65,280.97 294.07,287.17 294.90,291.30 C295.73,295.43 296.77,300.42 298.00,303.30 C299.23,306.18 299.47,307.30 302.30,308.60 C305.13,309.90 309.55,310.70 315.00,311.10 C320.45,311.50 330.83,311.35 335.00,311.00 C339.17,310.65 338.13,310.25 340.00,309.00 C341.87,307.75 344.67,305.85 346.20,303.50 C347.73,301.15 348.23,297.37 349.20,294.90 C350.17,292.43 350.87,287.27 352.00,288.70 C353.13,290.13 354.50,300.32 356.00,303.50 C357.50,306.68 358.93,307.02 361.00,307.80 C363.07,308.58 366.35,308.72 368.40,308.20 C370.45,307.68 371.87,306.30 373.30,304.70 C374.73,303.10 375.97,301.88 377.00,298.60 C378.03,295.32 378.63,290.72 379.50,285.00 C380.37,279.28 381.37,265.80 382.20,264.30 C383.03,262.80 383.72,271.32 384.50,276.00 C385.28,280.68 385.88,288.33 386.90,292.40 C387.92,296.47 389.37,299.98 390.60,300.40 C391.83,300.82 393.27,298.32 394.30,294.90 C395.33,291.48 395.87,282.02 396.80,279.90 C397.73,277.78 399.03,282.85 399.90,282.20 C400.77,281.55 401.15,277.55 402.00,276.00 C402.85,274.45 404.08,272.98 405.00,272.90 C405.92,272.82 406.73,273.75 407.50,275.50 C408.27,277.25 408.93,279.45 409.60,283.40 C410.27,287.35 410.37,295.75 411.50,299.20 C412.63,302.65 414.95,303.10 416.40,304.10 C417.85,305.10 418.77,305.88 420.20,305.20 C421.63,304.52 423.70,302.87 425.00,300.00 C426.30,297.13 427.00,293.93 428.00,288.00 C429.00,282.07 430.08,265.73 431.00,264.40 C431.92,263.07 432.67,274.90 433.50,280.00 C434.33,285.10 435.00,291.45 436.00,295.00 C437.00,298.55 438.17,301.30 439.50,301.30 C440.83,301.30 442.28,298.65 444.00,295.00 C445.72,291.35 448.27,281.57 449.80,279.40 C451.33,277.23 452.25,283.57 453.20,282.00 C454.15,280.43 454.77,274.32 455.50,270.00 C456.23,265.68 456.93,256.93 457.60,256.10 C458.27,255.27 458.85,261.77 459.50,265.00 C460.15,268.23 460.75,276.00 461.50,275.50 C462.25,275.00 462.93,267.17 464.00,262.00 C465.07,256.83 466.95,247.00 467.90,244.50 C468.85,242.00 468.85,248.50 469.70,247.00 C470.55,245.50 472.02,237.85 473.00,235.50 C473.98,233.15 474.52,233.25 475.60,232.90 C476.68,232.55 478.60,232.22 479.50,233.40 C480.40,234.58 480.35,237.07 481.00,240.00 C481.65,242.93 482.35,245.73 483.40,251.00 C484.45,256.27 486.23,266.43 487.30,271.60 C488.37,276.77 488.93,281.93 489.80,282.00 C490.67,282.07 491.53,276.40 492.50,272.00 C493.47,267.60 494.68,257.60 495.60,255.60 C496.52,253.60 497.13,258.47 498.00,260.00 C498.87,261.53 499.97,263.73 500.80,264.80 C501.63,265.87 502.30,267.53 503.00,266.40 C503.70,265.27 504.33,260.22 505.00,258.00 C505.67,255.78 506.33,253.10 507.00,253.10 C507.67,253.10 508.23,255.53 509.00,258.00 C509.77,260.47 510.40,262.57 511.60,267.90 C512.80,273.23 514.67,284.90 516.20,290.00 C517.73,295.10 519.50,297.83 520.80,298.50 C522.10,299.17 522.97,296.53 524.00,294.00 C525.03,291.47 526.00,289.70 527.00,283.30 C528.00,276.90 528.97,261.52 530.00,255.60 C531.03,249.68 532.15,250.38 533.20,247.80 C534.25,245.22 535.37,237.78 536.30,240.10 C537.23,242.42 538.02,253.98 538.80,261.70 C539.58,269.42 539.87,279.45 541.00,286.40 C542.13,293.35 543.82,299.80 545.60,303.40 C547.38,307.00 547.63,307.13 551.70,308.00 C555.77,308.87 565.28,308.93 570.00,308.60 C574.72,308.27 577.50,306.70 580.00,306.00 C582.50,305.30 583.67,305.48 585.00,304.40 C586.33,303.32 587.08,301.73 588.00,299.50 C588.92,297.27 589.80,294.25 590.50,291.00 C591.20,287.75 591.68,284.17 592.20,280.00 C592.72,275.83 592.98,269.75 593.60,266.00 C594.22,262.25 595.23,258.00 595.90,257.50 C596.57,257.00 597.05,261.08 597.60,263.00 C598.15,264.92 598.60,268.67 599.20,269.00 C599.80,269.33 600.50,266.73 601.20,265.00 C601.90,263.27 602.62,262.47 603.40,258.60 C604.18,254.73 605.13,247.02 605.90,241.80 C606.67,236.58 607.30,227.30 608.00,227.30 C608.70,227.30 609.47,235.52 610.10,241.80 C610.73,248.08 611.17,258.63 611.80,265.00 C612.43,271.37 613.20,275.42 613.90,280.00 C614.60,284.58 615.15,289.08 616.00,292.50 C616.85,295.92 617.55,298.20 619.00,300.50 C620.45,302.80 622.03,304.97 624.70,306.30 C627.37,307.63 631.37,307.85 635.00,308.50 C638.63,309.15 644.58,309.92 646.50,310.20" fill="none" stroke="#22999a" stroke-width="1.8" stroke-linejoin="round"/>
<line x1="480" y1="119.6" x2="480" y2="137.7" stroke="#000" stroke-width="2.4"/>
<line x1="559.4" y1="253" x2="559.4" y2="270" stroke="#000" stroke-width="2.4"/>
<line x1="597.2" y1="189.3" x2="597.2" y2="204.7" stroke="#000" stroke-width="2.4"/>
<line x1="613.5" y1="141.5" x2="613.5" y2="157.5" stroke="#000" stroke-width="2.4"/>
<text x="477.0" y="159.3" font-family="'Liberation Sans', sans-serif" font-size="15.6" fill="#111">A</text>
<text x="562.8" y="278.7" font-family="'Liberation Sans', sans-serif" font-size="15.6" fill="#111">B</text>
<text x="599.6" y="213.2" font-family="'Liberation Sans', sans-serif" font-size="15.6" fill="#111">C</text>
<text x="615.6" y="166.2" font-family="'Liberation Sans', sans-serif" font-size="15.6" fill="#111">D</text>
<text x="614.0" y="241.6" font-family="'Liberation Sans', sans-serif" font-size="14.8" fill="#5a55d6">D'</text>
<text x="595.2" y="284.6" font-family="'Liberation Sans', sans-serif" font-size="14.8" fill="#5a55d6">C'</text>
<path d="M290.80,257.90 L291.65,260.13 L294.03,260.25 L292.18,261.75 L292.80,264.05 L290.80,262.75 L288.80,264.05 L289.42,261.75 L287.57,260.25 L289.95,260.13Z" fill="#111" stroke="#111" stroke-width="0.6" stroke-linejoin="round"/>
<path d="M353.90,269.50 L354.75,271.73 L357.13,271.85 L355.28,273.35 L355.90,275.65 L353.90,274.35 L351.90,275.65 L352.52,273.35 L350.67,271.85 L353.05,271.73Z" fill="#111" stroke="#111" stroke-width="0.6" stroke-linejoin="round"/>
<path d="M384.10,246.70 L384.95,248.93 L387.33,249.05 L385.48,250.55 L386.10,252.85 L384.10,251.55 L382.10,252.85 L382.72,250.55 L380.87,249.05 L383.25,248.93Z" fill="#111" stroke="#111" stroke-width="0.6" stroke-linejoin="round"/>
<path d="M405.90,254.80 L406.75,257.03 L409.13,257.15 L407.28,258.65 L407.90,260.95 L405.90,259.65 L403.90,260.95 L404.52,258.65 L402.67,257.15 L405.05,257.03Z" fill="#111" stroke="#111" stroke-width="0.6" stroke-linejoin="round"/>
<path d="M431.70,245.00 L432.55,247.23 L434.93,247.35 L433.08,248.85 L433.70,251.15 L431.70,249.85 L429.70,251.15 L430.32,248.85 L428.47,247.35 L430.85,247.23Z" fill="#111" stroke="#111" stroke-width="0.6" stroke-linejoin="round"/>
<path d="M458.90,233.40 L459.75,235.63 L462.13,235.75 L460.28,237.25 L460.90,239.55 L458.90,238.25 L456.90,239.55 L457.52,237.25 L455.67,235.75 L458.05,235.63Z" fill="#111" stroke="#111" stroke-width="0.6" stroke-linejoin="round"/>
<path d="M536.50,223.60 L537.35,225.83 L539.73,225.95 L537.88,227.45 L538.50,229.75 L536.50,228.45 L534.50,229.75 L535.12,227.45 L533.27,225.95 L535.65,225.83Z" fill="#111" stroke="#111" stroke-width="0.6" stroke-linejoin="round"/>
<rect x="264.5" y="2.2" width="382.0" height="319.0" fill="none" stroke="#111" stroke-width="1.5"/>
<line x1="266.9" y1="321.2" x2="266.9" y2="316.2" stroke="#111" stroke-width="1.4"/>
<line x1="266.9" y1="2.2" x2="266.9" y2="7.2" stroke="#111" stroke-width="1.4"/>
<line x1="279.1" y1="321.2" x2="279.1" y2="316.2" stroke="#111" stroke-width="1.4"/>
<line x1="279.1" y1="2.2" x2="279.1" y2="7.2" stroke="#111" stroke-width="1.4"/>
<line x1="291.2" y1="321.2" x2="291.2" y2="316.2" stroke="#111" stroke-width="1.4"/>
<line x1="291.2" y1="2.2" x2="291.2" y2="7.2" stroke="#111" stroke-width="1.4"/>
<line x1="303.4" y1="321.2" x2="303.4" y2="316.2" stroke="#111" stroke-width="1.4"/>
<line x1="303.4" y1="2.2" x2="303.4" y2="7.2" stroke="#111" stroke-width="1.4"/>
<line x1="315.6" y1="321.2" x2="315.6" y2="312.2" stroke="#111" stroke-width="1.4"/>
<line x1="315.6" y1="2.2" x2="315.6" y2="11.2" stroke="#111" stroke-width="1.4"/>
<line x1="327.8" y1="321.2" x2="327.8" y2="316.2" stroke="#111" stroke-width="1.4"/>
<line x1="327.8" y1="2.2" x2="327.8" y2="7.2" stroke="#111" stroke-width="1.4"/>
<line x1="340.0" y1="321.2" x2="340.0" y2="316.2" stroke="#111" stroke-width="1.4"/>
<line x1="340.0" y1="2.2" x2="340.0" y2="7.2" stroke="#111" stroke-width="1.4"/>
<line x1="352.1" y1="321.2" x2="352.1" y2="316.2" stroke="#111" stroke-width="1.4"/>
<line x1="352.1" y1="2.2" x2="352.1" y2="7.2" stroke="#111" stroke-width="1.4"/>
<line x1="364.3" y1="321.2" x2="364.3" y2="316.2" stroke="#111" stroke-width="1.4"/>
<line x1="364.3" y1="2.2" x2="364.3" y2="7.2" stroke="#111" stroke-width="1.4"/>
<line x1="376.5" y1="321.2" x2="376.5" y2="312.2" stroke="#111" stroke-width="1.4"/>
<line x1="376.5" y1="2.2" x2="376.5" y2="11.2" stroke="#111" stroke-width="1.4"/>
<line x1="388.7" y1="321.2" x2="388.7" y2="316.2" stroke="#111" stroke-width="1.4"/>
<line x1="388.7" y1="2.2" x2="388.7" y2="7.2" stroke="#111" stroke-width="1.4"/>
<line x1="400.9" y1="321.2" x2="400.9" y2="316.2" stroke="#111" stroke-width="1.4"/>
<line x1="400.9" y1="2.2" x2="400.9" y2="7.2" stroke="#111" stroke-width="1.4"/>
<line x1="413.0" y1="321.2" x2="413.0" y2="316.2" stroke="#111" stroke-width="1.4"/>
<line x1="413.0" y1="2.2" x2="413.0" y2="7.2" stroke="#111" stroke-width="1.4"/>
<line x1="425.2" y1="321.2" x2="425.2" y2="316.2" stroke="#111" stroke-width="1.4"/>
<line x1="425.2" y1="2.2" x2="425.2" y2="7.2" stroke="#111" stroke-width="1.4"/>
<line x1="437.4" y1="321.2" x2="437.4" y2="312.2" stroke="#111" stroke-width="1.4"/>
<line x1="437.4" y1="2.2" x2="437.4" y2="11.2" stroke="#111" stroke-width="1.4"/>
<line x1="449.6" y1="321.2" x2="449.6" y2="316.2" stroke="#111" stroke-width="1.4"/>
<line x1="449.6" y1="2.2" x2="449.6" y2="7.2" stroke="#111" stroke-width="1.4"/>
<line x1="461.8" y1="321.2" x2="461.8" y2="316.2" stroke="#111" stroke-width="1.4"/>
<line x1="461.8" y1="2.2" x2="461.8" y2="7.2" stroke="#111" stroke-width="1.4"/>
<line x1="473.9" y1="321.2" x2="473.9" y2="316.2" stroke="#111" stroke-width="1.4"/>
<line x1="473.9" y1="2.2" x2="473.9" y2="7.2" stroke="#111" stroke-width="1.4"/>
<line x1="486.1" y1="321.2" x2="486.1" y2="316.2" stroke="#111" stroke-width="1.4"/>
<line x1="486.1" y1="2.2" x2="486.1" y2="7.2" stroke="#111" stroke-width="1.4"/>
<line x1="498.3" y1="321.2" x2="498.3" y2="312.2" stroke="#111" stroke-width="1.4"/>
<line x1="498.3" y1="2.2" x2="498.3" y2="11.2" stroke="#111" stroke-width="1.4"/>
<line x1="510.5" y1="321.2" x2="510.5" y2="316.2" stroke="#111" stroke-width="1.4"/>
<line x1="510.5" y1="2.2" x2="510.5" y2="7.2" stroke="#111" stroke-width="1.4"/>
<line x1="522.7" y1="321.2" x2="522.7" y2="316.2" stroke="#111" stroke-width="1.4"/>
<line x1="522.7" y1="2.2" x2="522.7" y2="7.2" stroke="#111" stroke-width="1.4"/>
<line x1="534.8" y1="321.2" x2="534.8" y2="316.2" stroke="#111" stroke-width="1.4"/>
<line x1="534.8" y1="2.2" x2="534.8" y2="7.2" stroke="#111" stroke-width="1.4"/>
<line x1="547.0" y1="321.2" x2="547.0" y2="316.2" stroke="#111" stroke-width="1.4"/>
<line x1="547.0" y1="2.2" x2="547.0" y2="7.2" stroke="#111" stroke-width="1.4"/>
<line x1="559.2" y1="321.2" x2="559.2" y2="312.2" stroke="#111" stroke-width="1.4"/>
<line x1="559.2" y1="2.2" x2="559.2" y2="11.2" stroke="#111" stroke-width="1.4"/>
<line x1="571.4" y1="321.2" x2="571.4" y2="316.2" stroke="#111" stroke-width="1.4"/>
<line x1="571.4" y1="2.2" x2="571.4" y2="7.2" stroke="#111" stroke-width="1.4"/>
<line x1="583.6" y1="321.2" x2="583.6" y2="316.2" stroke="#111" stroke-width="1.4"/>
<line x1="583.6" y1="2.2" x2="583.6" y2="7.2" stroke="#111" stroke-width="1.4"/>
<line x1="595.7" y1="321.2" x2="595.7" y2="316.2" stroke="#111" stroke-width="1.4"/>
<line x1="595.7" y1="2.2" x2="595.7" y2="7.2" stroke="#111" stroke-width="1.4"/>
<line x1="607.9" y1="321.2" x2="607.9" y2="316.2" stroke="#111" stroke-width="1.4"/>
<line x1="607.9" y1="2.2" x2="607.9" y2="7.2" stroke="#111" stroke-width="1.4"/>
<line x1="620.1" y1="321.2" x2="620.1" y2="312.2" stroke="#111" stroke-width="1.4"/>
<line x1="620.1" y1="2.2" x2="620.1" y2="11.2" stroke="#111" stroke-width="1.4"/>
<line x1="632.3" y1="321.2" x2="632.3" y2="316.2" stroke="#111" stroke-width="1.4"/>
<line x1="632.3" y1="2.2" x2="632.3" y2="7.2" stroke="#111" stroke-width="1.4"/>
<line x1="644.5" y1="321.2" x2="644.5" y2="316.2" stroke="#111" stroke-width="1.4"/>
<line x1="644.5" y1="2.2" x2="644.5" y2="7.2" stroke="#111" stroke-width="1.4"/>
<line x1="264.5" y1="4.9" x2="269.5" y2="4.9" stroke="#111" stroke-width="1.4"/>
<line x1="646.5" y1="4.9" x2="641.5" y2="4.9" stroke="#111" stroke-width="1.4"/>
<line x1="264.5" y1="10.9" x2="269.5" y2="10.9" stroke="#111" stroke-width="1.4"/>
<line x1="646.5" y1="10.9" x2="641.5" y2="10.9" stroke="#111" stroke-width="1.4"/>
<line x1="264.5" y1="17.0" x2="269.5" y2="17.0" stroke="#111" stroke-width="1.4"/>
<line x1="646.5" y1="17.0" x2="641.5" y2="17.0" stroke="#111" stroke-width="1.4"/>
<line x1="264.5" y1="23.0" x2="272.0" y2="23.0" stroke="#111" stroke-width="1.4"/>
<line x1="646.5" y1="23.0" x2="639.0" y2="23.0" stroke="#111" stroke-width="1.4"/>
<line x1="264.5" y1="29.1" x2="269.5" y2="29.1" stroke="#111" stroke-width="1.4"/>
<line x1="646.5" y1="29.1" x2="641.5" y2="29.1" stroke="#111" stroke-width="1.4"/>
<line x1="264.5" y1="35.1" x2="269.5" y2="35.1" stroke="#111" stroke-width="1.4"/>
<line x1="646.5" y1="35.1" x2="641.5" y2="35.1" stroke="#111" stroke-width="1.4"/>
<line x1="264.5" y1="41.2" x2="269.5" y2="41.2" stroke="#111" stroke-width="1.4"/>
<line x1="646.5" y1="41.2" x2="641.5" y2="41.2" stroke="#111" stroke-width="1.4"/>
<line x1="264.5" y1="47.2" x2="269.5" y2="47.2" stroke="#111" stroke-width="1.4"/>
<line x1="646.5" y1="47.2" x2="641.5" y2="47.2" stroke="#111" stroke-width="1.4"/>
<line x1="264.5" y1="53.3" x2="274.5" y2="53.3" stroke="#111" stroke-width="1.4"/>
<line x1="646.5" y1="53.3" x2="636.5" y2="53.3" stroke="#111" stroke-width="1.4"/>
<line x1="264.5" y1="59.3" x2="269.5" y2="59.3" stroke="#111" stroke-width="1.4"/>
<line x1="646.5" y1="59.3" x2="641.5" y2="59.3" stroke="#111" stroke-width="1.4"/>
<line x1="264.5" y1="65.4" x2="269.5" y2="65.4" stroke="#111" stroke-width="1.4"/>
<line x1="646.5" y1="65.4" x2="641.5" y2="65.4" stroke="#111" stroke-width="1.4"/>
<line x1="264.5" y1="71.4" x2="269.5" y2="71.4" stroke="#111" stroke-width="1.4"/>
<line x1="646.5" y1="71.4" x2="641.5" y2="71.4" stroke="#111" stroke-width="1.4"/>
<line x1="264.5" y1="77.5" x2="269.5" y2="77.5" stroke="#111" stroke-width="1.4"/>
<line x1="646.5" y1="77.5" x2="641.5" y2="77.5" stroke="#111" stroke-width="1.4"/>
<line x1="264.5" y1="83.5" x2="272.0" y2="83.5" stroke="#111" stroke-width="1.4"/>
<line x1="646.5" y1="83.5" x2="639.0" y2="83.5" stroke="#111" stroke-width="1.4"/>
<line x1="264.5" y1="89.6" x2="269.5" y2="89.6" stroke="#111" stroke-width="1.4"/>
<line x1="646.5" y1="89.6" x2="641.5" y2="89.6" stroke="#111" stroke-width="1.4"/>
<line x1="264.5" y1="95.7" x2="269.5" y2="95.7" stroke="#111" stroke-width="1.4"/>
<line x1="646.5" y1="95.7" x2="641.5" y2="95.7" stroke="#111" stroke-width="1.4"/>
<line x1="264.5" y1="101.7" x2="269.5" y2="101.7" stroke="#111" stroke-width="1.4"/>
<line x1="646.5" y1="101.7" x2="641.5" y2="101.7" stroke="#111" stroke-width="1.4"/>
<line x1="264.5" y1="107.8" x2="269.5" y2="107.8" stroke="#111" stroke-width="1.4"/>
<line x1="646.5" y1="107.8" x2="641.5" y2="107.8" stroke="#111" stroke-width="1.4"/>
<line x1="264.5" y1="113.8" x2="274.5" y2="113.8" stroke="#111" stroke-width="1.4"/>
<line x1="646.5" y1="113.8" x2="636.5" y2="113.8" stroke="#111" stroke-width="1.4"/>
<line x1="264.5" y1="119.8" x2="269.5" y2="119.8" stroke="#111" stroke-width="1.4"/>
<line x1="646.5" y1="119.8" x2="641.5" y2="119.8" stroke="#111" stroke-width="1.4"/>
<line x1="264.5" y1="125.9" x2="269.5" y2="125.9" stroke="#111" stroke-width="1.4"/>
<line x1="646.5" y1="125.9" x2="641.5" y2="125.9" stroke="#111" stroke-width="1.4"/>
<line x1="264.5" y1="131.9" x2="269.5" y2="131.9" stroke="#111" stroke-width="1.4"/>
<line x1="646.5" y1="131.9" x2="641.5" y2="131.9" stroke="#111" stroke-width="1.4"/>
<line x1="264.5" y1="138.0" x2="269.5" y2="138.0" stroke="#111" stroke-width="1.4"/>
<line x1="646.5" y1="138.0" x2="641.5" y2="138.0" stroke="#111" stroke-width="1.4"/>
<line x1="264.5" y1="144.1" x2="272.0" y2="144.1" stroke="#111" stroke-width="1.4"/>
<line x1="646.5" y1="144.1" x2="639.0" y2="144.1" stroke="#111" stroke-width="1.4"/>
<line x1="264.5" y1="150.1" x2="269.5" y2="150.1" stroke="#111" stroke-width="1.4"/>
<line x1="646.5" y1="150.1" x2="641.5" y2="150.1" stroke="#111" stroke-width="1.4"/>
<line x1="264.5" y1="156.1" x2="269.5" y2="156.1" stroke="#111" stroke-width="1.4"/>
<line x1="646.5" y1="156.1" x2="641.5" y2="156.1" stroke="#111" stroke-width="1.4"/>
<line x1="264.5" y1="162.2" x2="269.5" y2="162.2" stroke="#111" stroke-width="1.4"/>
<line x1="646.5" y1="162.2" x2="641.5" y2="162.2" stroke="#111" stroke-width="1.4"/>
<line x1="264.5" y1="168.2" x2="269.5" y2="168.2" stroke="#111" stroke-width="1.4"/>
<line x1="646.5" y1="168.2" x2="641.5" y2="168.2" stroke="#111" stroke-width="1.4"/>
<line x1="264.5" y1="174.3" x2="274.5" y2="174.3" stroke="#111" stroke-width="1.4"/>
<line x1="646.5" y1="174.3" x2="636.5" y2="174.3" stroke="#111" stroke-width="1.4"/>
<line x1="264.5" y1="180.3" x2="269.5" y2="180.3" stroke="#111" stroke-width="1.4"/>
<line x1="646.5" y1="180.3" x2="641.5" y2="180.3" stroke="#111" stroke-width="1.4"/>
<line x1="264.5" y1="186.4" x2="269.5" y2="186.4" stroke="#111" stroke-width="1.4"/>
<line x1="646.5" y1="186.4" x2="641.5" y2="186.4" stroke="#111" stroke-width="1.4"/>
<line x1="264.5" y1="192.4" x2="269.5" y2="192.4" stroke="#111" stroke-width="1.4"/>
<line x1="646.5" y1="192.4" x2="641.5" y2="192.4" stroke="#111" stroke-width="1.4"/>
<line x1="264.5" y1="198.5" x2="269.5" y2="198.5" stroke="#111" stroke-width="1.4"/>
<line x1="646.5" y1="198.5" x2="641.5" y2="198.5" stroke="#111" stroke-width="1.4"/>
<line x1="264.5" y1="204.6" x2="272.0" y2="204.6" stroke="#111" stroke-width="1.4"/>
<line x1="646.5" y1="204.6" x2="639.0" y2="204.6" stroke="#111" stroke-width="1.4"/>
<line x1="264.5" y1="210.6" x2="269.5" y2="210.6" stroke="#111" stroke-width="1.4"/>
<line x1="646.5" y1="210.6" x2="641.5" y2="210.6" stroke="#111" stroke-width="1.4"/>
<line x1="264.5" y1="216.6" x2="269.5" y2="216.6" stroke="#111" stroke-width="1.4"/>
<line x1="646.5" y1="216.6" x2="641.5" y2="216.6" stroke="#111" stroke-width="1.4"/>
<line x1="264.5" y1="222.7" x2="269.5" y2="222.7" stroke="#111" stroke-width="1.4"/>
<line x1="646.5" y1="222.7" x2="641.5" y2="222.7" stroke="#111" stroke-width="1.4"/>
<line x1="264.5" y1="228.8" x2="269.5" y2="228.8" stroke="#111" stroke-width="1.4"/>
<line x1="646.5" y1="228.8" x2="641.5" y2="228.8" stroke="#111" stroke-width="1.4"/>
<line x1="264.5" y1="234.8" x2="274.5" y2="234.8" stroke="#111" stroke-width="1.4"/>
<line x1="646.5" y1="234.8" x2="636.5" y2="234.8" stroke="#111" stroke-width="1.4"/>
<line x1="264.5" y1="240.8" x2="269.5" y2="240.8" stroke="#111" stroke-width="1.4"/>
<line x1="646.5" y1="240.8" x2="641.5" y2="240.8" stroke="#111" stroke-width="1.4"/>
<line x1="264.5" y1="246.9" x2="269.5" y2="246.9" stroke="#111" stroke-width="1.4"/>
<line x1="646.5" y1="246.9" x2="641.5" y2="246.9" stroke="#111" stroke-width="1.4"/>
<line x1="264.5" y1="252.9" x2="269.5" y2="252.9" stroke="#111" stroke-width="1.4"/>
<line x1="646.5" y1="252.9" x2="641.5" y2="252.9" stroke="#111" stroke-width="1.4"/>
<line x1="264.5" y1="259.0" x2="269.5" y2="259.0" stroke="#111" stroke-width="1.4"/>
<line x1="646.5" y1="259.0" x2="641.5" y2="259.0" stroke="#111" stroke-width="1.4"/>
<line x1="264.5" y1="265.1" x2="272.0" y2="265.1" stroke="#111" stroke-width="1.4"/>
<line x1="646.5" y1="265.1" x2="639.0" y2="265.1" stroke="#111" stroke-width="1.4"/>
<line x1="264.5" y1="271.1" x2="269.5" y2="271.1" stroke="#111" stroke-width="1.4"/>
<line x1="646.5" y1="271.1" x2="641.5" y2="271.1" stroke="#111" stroke-width="1.4"/>
<line x1="264.5" y1="277.1" x2="269.5" y2="277.1" stroke="#111" stroke-width="1.4"/>
<line x1="646.5" y1="277.1" x2="641.5" y2="277.1" stroke="#111" stroke-width="1.4"/>
<line x1="264.5" y1="283.2" x2="269.5" y2="283.2" stroke="#111" stroke-width="1.4"/>
<line x1="646.5" y1="283.2" x2="641.5" y2="283.2" stroke="#111" stroke-width="1.4"/>
<line x1="264.5" y1="289.2" x2="269.5" y2="289.2" stroke="#111" stroke-width="1.4"/>
<line x1="646.5" y1="289.2" x2="641.5" y2="289.2" stroke="#111" stroke-width="1.4"/>
<line x1="264.5" y1="295.3" x2="274.5" y2="295.3" stroke="#111" stroke-width="1.4"/>
<line x1="646.5" y1="295.3" x2="636.5" y2="295.3" stroke="#111" stroke-width="1.4"/>
<line x1="264.5" y1="301.3" x2="269.5" y2="301.3" stroke="#111" stroke-width="1.4"/>
<line x1="646.5" y1="301.3" x2="641.5" y2="301.3" stroke="#111" stroke-width="1.4"/>
<line x1="264.5" y1="307.4" x2="269.5" y2="307.4" stroke="#111" stroke-width="1.4"/>
<line x1="646.5" y1="307.4" x2="641.5" y2="307.4" stroke="#111" stroke-width="1.4"/>
<line x1="264.5" y1="313.4" x2="269.5" y2="313.4" stroke="#111" stroke-width="1.4"/>
<line x1="646.5" y1="313.4" x2="641.5" y2="313.4" stroke="#111" stroke-width="1.4"/>
<line x1="264.5" y1="319.5" x2="269.5" y2="319.5" stroke="#111" stroke-width="1.4"/>
<line x1="646.5" y1="319.5" x2="641.5" y2="319.5" stroke="#111" stroke-width="1.4"/>
<text x="315.0" y="344.6" font-family="'Liberation Sans', sans-serif" font-size="17.5" text-anchor="middle" fill="#111">-20</text>
<text x="375.9" y="344.6" font-family="'Liberation Sans', sans-serif" font-size="17.5" text-anchor="middle" fill="#111">-15</text>
<text x="436.8" y="344.6" font-family="'Liberation Sans', sans-serif" font-size="17.5" text-anchor="middle" fill="#111">-10</text>
<text x="497.7" y="344.6" font-family="'Liberation Sans', sans-serif" font-size="17.5" text-anchor="middle" fill="#111">-5</text>
<text x="558.6" y="344.6" font-family="'Liberation Sans', sans-serif" font-size="17.5" text-anchor="middle" fill="#111">0</text>
<text x="619.5" y="344.6" font-family="'Liberation Sans', sans-serif" font-size="17.5" text-anchor="middle" fill="#111">5</text>
<text x="408.6" y="381.3" font-family="'Liberation Sans', sans-serif" font-size="16.8" textLength="93" lengthAdjust="spacingAndGlyphs" fill="#111">Energy (eV)</text>
<text transform="translate(250.0,239.0) rotate(-90)" font-family="'Liberation Sans', sans-serif" font-size="17" textLength="150.4" lengthAdjust="spacingAndGlyphs" fill="#111">Intensity (arb. units)</text>
<text x="242.5" y="14.9" font-family="'Liberation Sans', sans-serif" font-size="13" fill="#222">(b)</text>
<line x1="272.3" y1="32.7" x2="297.7" y2="32.7" stroke="#d93a3a" stroke-width="1.8"/>
<text x="305.4" y="36.7" font-family="'Liberation Sans', sans-serif" font-size="12.8" textLength="64.2" lengthAdjust="spacingAndGlyphs" fill="#222">Graphene</text>
<line x1="272.3" y1="49.6" x2="297.7" y2="49.6" stroke="#222" stroke-width="1.8"/>
<text x="305.4" y="53.6" font-family="'Liberation Sans', sans-serif" font-size="12.8" textLength="111" lengthAdjust="spacingAndGlyphs" fill="#222">TMeOP-Graphene</text>
<line x1="272.3" y1="65.8" x2="297.7" y2="65.8" stroke="#2aa6a6" stroke-width="1.8"/>
<text x="305.4" y="69.8" font-family="'Liberation Sans', sans-serif" font-size="12.8" textLength="45.4" lengthAdjust="spacingAndGlyphs" fill="#222">TMeOB</text>
</svg></body></html>
